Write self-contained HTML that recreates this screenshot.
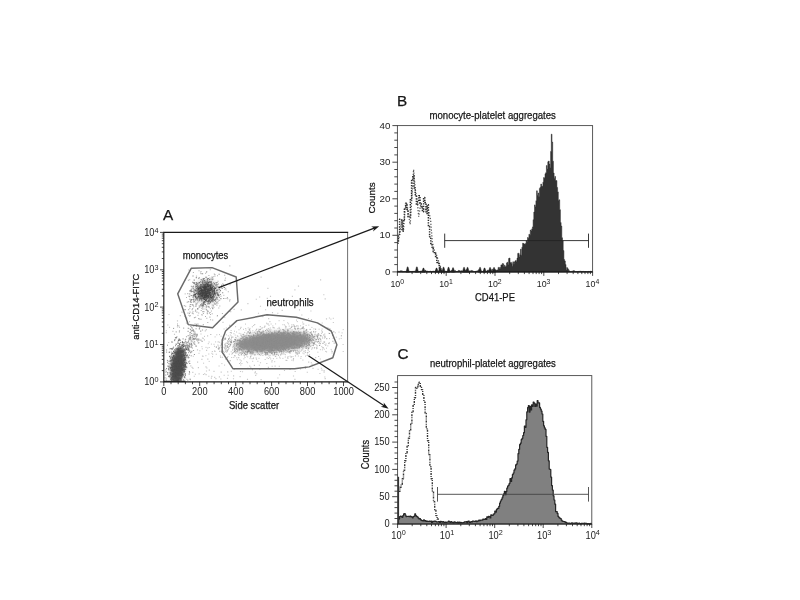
<!DOCTYPE html>
<html lang="en"><head><meta charset="utf-8"><title>Flow cytometry: monocyte- and neutrophil-platelet aggregates</title>
<style>html,body{margin:0;padding:0;background:#fff;}body{width:800px;height:600px;overflow:hidden;}svg{display:block;}text{font-family:"Liberation Sans", Arial, sans-serif;fill:#161616;stroke:#161616;stroke-width:0.25px;}text.t{stroke:none;fill:#222;}</style></head><body>
<svg width="800" height="600" viewBox="0 0 800 600">
<rect width="800" height="600" fill="#fff"/>
<g id="panelA">
<text x="162.9" y="219.7" font-size="15.3" text-anchor="start" >A</text>
<path d="M218.2 341.8h0M177.5 326.9h0M252.5 369.6h0M247.9 368.3h0M171.9 364.2h0M180.5 373h0M234.5 369.2h0M201.9 359.4h0M267.3 324h0M230 360.8h0M323.8 294.7h0M212.7 354.2h0M189.1 351.4h0M297.8 353.8h0M195 323.9h0M226.1 348.4h0M254.4 365.3h0M199.1 373.8h0M275.9 344.8h0M260.5 362.7h0M239.1 355.3h0M278.9 303.7h0M205.3 330.9h0M307.4 355.1h0M283.8 350.1h0M184.9 257.5h0M233.5 378.7h0M244.9 354.1h0M172.1 342.3h0M258.5 313.2h0M307.5 352.8h0M262 316h0M259.6 297h0M318.6 356.5h0M242.5 371.7h0M279.3 366.2h0M270.5 296.4h0M211.8 376.3h0M228.2 375.2h0M240.5 371.5h0M193 368.3h0M290.1 369.4h0M186.7 379.2h0M306.8 335.1h0M178.8 325.9h0M308.7 362.1h0M298.4 356h0M233 352.5h0M223.8 295.4h0M190.2 304.6h0M194.3 376.2h0M244.3 347.3h0M261.1 379.6h0M233.6 375.8h0M225.5 278.1h0M277.5 334.8h0M249.2 329.9h0M174.5 334.4h0M311.3 362.7h0M294.9 289.8h0M229.3 363h0M268.4 367.4h0M175.9 351.8h0M192.1 367.3h0M220.8 379h0M190.3 379.6h0M182.2 373.2h0M307.3 372.2h0M265.2 359.5h0M222 352.3h0M224.7 317.2h0M326.5 318.9h0M241.2 360.9h0M182.3 378h0M221.2 372.1h0M191.9 295.7h0M169.5 327.3h0M189.5 363.2h0M253.7 325.5h0M324.1 370.6h0M305.5 368.3h0M225.1 346.9h0M192.8 372.3h0M291.9 324.9h0M219.1 366h0M325.2 298.9h0M303.8 351.2h0M285.5 301.9h0M202.5 338h0M170.5 375.2h0M170.3 373.5h0M277.9 345.6h0M320.6 279.8h0M325.7 345.5h0M320.3 359h0M202.5 356h0M197.6 362.1h0M311.5 319.5h0M301.8 315h0M295.2 371.5h0M179.5 327.3h0M292.4 296.4h0M287.2 351.9h0M293.5 376h0M219.6 342.2h0M229.8 265.8h0M230.7 311.6h0M193.3 356.2h0M186.4 323.1h0M296.3 300.5h0M189.5 321.6h0M272.1 268.1h0M222.5 357.2h0M168.1 372.7h0M322.9 347.5h0M316.9 335.4h0M236 321.6h0M199.9 319.2h0M206.5 371h0M260.7 347.7h0M207.8 359.1h0M313 368.3h0M223 322.4h0M312.1 364.4h0M233.9 333.7h0M251.8 353.7h0M250.5 331.8h0M195.4 374.2h0M166.4 371.5h0M242.4 353.5h0M283.1 342.4h0M249.7 366h0M255.7 375.3h0M256.5 359.1h0M206 366.9h0M247.9 303.6h0M256.7 373.7h0M237.5 280.8h0M264.9 326h0M277.9 378h0M239 329.7h0M318.1 369.2h0M278.9 303.2h0M207.8 304.7h0M256.3 299.2h0M188 349.8h0M185.5 363.6h0M204.7 373.7h0M177.6 341.7h0M310.9 311h0M190.8 365.9h0M188.9 315.3h0M308.6 348.9h0M319.9 373.5h0M300.5 369h0M191.9 330.7h0M220.7 357.3h0M197.5 349.8h0M169 314.5h0M255.4 371.9h0M219.4 376.8h0M266.8 363.5h0M325.2 378.6h0M293.4 359.1h0M208.8 376.2h0M172.2 373.4h0M186.8 344.8h0M234.1 309.3h0M207.6 335.9h0M190 328.8h0M279.1 351.4h0M180.3 315.6h0M234.6 355.6h0M177.5 320.8h0M295.5 355.8h0M179.3 369.6h0M305.4 366.8h0M239.2 349.6h0M315.7 331.5h0M209.1 342h0M204.4 339.9h0M183.5 372.3h0M198.4 367.6h0M216.3 354.2h0M212.7 308.4h0M246.7 361.7h0M168.7 342.5h0M206.3 307.1h0M255 372.9h0M196.5 276.1h0M183 363.3h0M298.3 332h0M300.8 358.2h0M229.4 311.3h0M324.8 377h0M221.2 345.1h0M268.7 318.6h0M231.3 371.2h0M186.8 367.6h0M177.2 377.9h0M192.2 345.4h0M179.5 330.5h0M274.3 303.5h0M211.4 378.1h0M240.1 342.5h0M191.3 346.7h0M321.4 368.2h0M323.2 347.7h0M322 370.1h0M215.9 378.6h0M227.5 378.3h0M242.6 349.8h0M247.5 379.4h0M166.6 378.2h0M230.4 360.5h0M172.5 342h0M203.5 374.5h0M260.5 306.2h0M272.2 366.2h0M281.6 347.5h0M218.6 349.1h0M325.1 337.3h0M269.9 321.6h0M172.9 331.4h0M267.3 298.3h0M284.5 370.5h0M250.5 357.1h0M247.4 338.5h0M299.5 309.9h0M260.3 326.6h0M278 337.4h0M203 356.3h0M224.2 375.2h0M182.8 350.4h0M267.4 330.5h0M267.1 357.9h0M166.3 332.6h0M294.9 379.3h0M252.4 326.7h0M272.5 312.6h0M206.6 350.3h0M177.8 372.8h0M199 307.5h0M285.5 328h0M227.7 371.9h0M243.3 348.8h0M265.6 309.7h0M269.8 357.4h0M206.9 368h0M286.1 360.4h0M167.8 325h0M175.6 372h0M277.8 313.2h0M275.1 366.1h0M241 327.4h0M241.3 309.8h0M198 315.3h0M324.1 372.1h0M240.1 376.6h0M298.5 331.7h0M209.3 370.1h0M199.8 350.7h0M259.9 369.5h0M188.7 270h0M187.3 363.2h0M298.5 286.1h0M279.6 374.7h0M203.2 338.3h0M169.8 348.8h0M166.4 330.7h0M214.7 377.3h0M188.6 358.1h0M301.7 347.3h0M166.1 379.5h0M185.2 293.9h0M315.7 357.6h0M212.7 285.6h0M261.1 277.1h0M224.2 347.4h0M173.6 364.1h0M182.3 361.2h0M317.2 348.1h0M206.1 374.6h0M196.5 326.3h0M226.2 290h0M297.2 354.5h0M267.9 288.4h0M254.7 324.5h0M282.2 310.3h0M238.7 357.6h0M287.6 357.2h0M173.7 350.8h0M315.8 344.5h0M221.4 343.4h0M214 371.4h0M207.9 257.1h0M271.9 361.9h0M229.6 325.4h0" stroke="#b0b0b0" stroke-width="1.15" stroke-linecap="square" fill="none" opacity="0.7"/>
<path d="M283.2 345.3h0M291.5 356.8h0M256 343.5h0M261.1 344.3h0M279.4 344.8h0M268.8 345.3h0M276.9 347.7h0M223.5 339.1h0M274.4 334.2h0M247.2 348.9h0M257.9 348.1h0M295.3 342.8h0M288.6 340.2h0M237 344.6h0M286.9 337.1h0M272.7 347.9h0M251.7 348.6h0M324.8 334h0M278.9 340.6h0M316.6 341.3h0M298.8 335h0M274.6 342h0M228 356.5h0M298.2 326.9h0M295 339.5h0M287.3 343.9h0M234.5 343.4h0M314.9 334.6h0M246.7 333.8h0M242.3 347h0M320.8 341.8h0M282.9 358.4h0M260.6 337.9h0M289.5 345.1h0M247 335.2h0M283 343.3h0M239.7 343.1h0M260.7 346.6h0M271.8 341.6h0M266.1 350.7h0M312.2 336.4h0M297.3 334.5h0M277.4 347.5h0M315.6 336h0M273.1 343.6h0M234.7 345.2h0M257 346.2h0M243.5 329.3h0M276.2 343.9h0M260.7 349.8h0M267.3 338h0M287 329.1h0M256.7 343.2h0M297.8 339h0M282.9 336.4h0M284.1 354h0M257.9 361.3h0M257.7 343.4h0M280.2 349.4h0M240.5 328.6h0M291.8 346.8h0M293.3 360.7h0M280.7 343.5h0M300.2 342.9h0M319.1 329.2h0M262.9 316.7h0M296.7 337.5h0M301.1 356.5h0M274.7 340.1h0M261.1 336.7h0M258.4 348.1h0M276 342.4h0M270.9 349.3h0M288.2 339.9h0M292.8 339.5h0M244.8 355.4h0M287 333.8h0M304.2 342.4h0M233.8 357.4h0M284.5 348.1h0M280.2 340.5h0M233.9 352.5h0M275.6 339.8h0M284.5 341.9h0M293 337.8h0M272.8 325.9h0M264 348h0M310.8 336.5h0M272.6 354.2h0M266.6 348.2h0M320.2 338.9h0M307.6 334.1h0M280.5 341h0M278.7 350.3h0M339 332.1h0M259.8 346.9h0M246.9 347.9h0M290.2 338.7h0M288.4 329.2h0M294.6 328.8h0M255.9 339.2h0M264.7 349.3h0M277 338.8h0M290.5 352.9h0M275.4 344.8h0M308.5 341.5h0M241.9 363.5h0M333.3 322.5h0M274.2 345.2h0M301.4 345.1h0M267.1 334.6h0M278.4 349.6h0M245.1 336.4h0M273.2 327.4h0M267.7 339.2h0M286.7 335.8h0M251 340.8h0M273.3 337.1h0M275.8 347.7h0M307.9 352.5h0M253.7 340.4h0M209.2 361.4h0M255.5 343.2h0M288.3 330.6h0M287.5 340.9h0M226 347.9h0M306.1 325.4h0M296.9 342h0M288 344.4h0M310 337.7h0M298.3 337.1h0M294.1 334.4h0M273.1 355.3h0M286.9 339.9h0M243.7 338.3h0M280.7 348.7h0M286.8 345.1h0M274.6 352.3h0M264.2 338.6h0M298.9 340.7h0M267.2 338.2h0M268.4 347.2h0M283.8 332.1h0M286.6 342.5h0M248.5 349.9h0M267.3 340h0M297.2 350.4h0M256.7 346.7h0M252.7 361.3h0M262.4 352.1h0M258 349.5h0M333.3 318.3h0M263.6 346.7h0M272.1 337.1h0M333 338.2h0M231.2 351.8h0M229.3 354.2h0M259.5 344.3h0M309 340.3h0M236.6 332h0M307.3 345.2h0M253.5 350.2h0M288.7 345.9h0M214 344.3h0M299.7 345.7h0M297.3 321.6h0M279.8 345.4h0M343.2 329.6h0M266.2 342.9h0M298.6 336.8h0M305.4 333.7h0M281.9 337.5h0M278.9 336.4h0M232.6 353.5h0M282.9 337.2h0M281 349.1h0M248.6 343.1h0M289.8 344.9h0M264.8 326.7h0M308.7 342h0M275.2 339.9h0M281.8 338.2h0M247 338.5h0M258.6 338.6h0M244.2 349.2h0M240.1 349.6h0M247.9 346.7h0M312.1 340.8h0M255.4 343.8h0M278 328.6h0M258.7 344.5h0M262.4 343.6h0M295.2 346.3h0M299.7 344.6h0M267.2 342.4h0M267.5 340.2h0M269.2 329.3h0M266 342.5h0M248.8 343.8h0M288.8 339.7h0M329.4 318h0M268.4 328.6h0M302.9 360.1h0M207.7 348h0M288.8 338.7h0M288.6 323.9h0M298.2 343.1h0M275.3 337.5h0M291.9 337h0M280.7 337.7h0M214.5 346.3h0M280.9 347.3h0M251.4 343.5h0M291.7 341.9h0M309.6 354.6h0M249.4 329.3h0M298.9 351.9h0M300.3 346.3h0M257.9 337.8h0M298.4 333.3h0M225.6 338.1h0M343.2 351.5h0M256.1 337.9h0M280.8 335.9h0M310.2 338.8h0M246.5 354.1h0M259.4 344.9h0M274.5 339.6h0M283.4 336.1h0M224.1 329h0M240.5 338.8h0M274.4 342.5h0M290 341.8h0M253.2 338.2h0M217.9 345h0M288.4 345h0M271.6 340.9h0M300.2 340.2h0M295.2 344.9h0M281.5 351.5h0M259.4 340.4h0M252.8 337.6h0M317.9 352.2h0M275.9 346.3h0M307.1 345.7h0M306.7 330h0M258 346.7h0M313.7 339.9h0M251.7 341.1h0M256.7 336.8h0M315.1 334.2h0M276.8 358.3h0M307.1 342.2h0M258.8 346.3h0M319 343.4h0M309 340.2h0M288.8 339.4h0M287.2 351h0M236.4 344.4h0M281.1 337.2h0M267.2 348.6h0M329.3 342.7h0M282.9 329.6h0M326.9 338.7h0M273.5 333.6h0M272.8 333.8h0M277.2 345.4h0M276 344.1h0M252.9 354.6h0M256.4 329.5h0M269.5 336.6h0M247.6 341.4h0M282.2 332.5h0M272.1 353.1h0M293.3 339.5h0M278.4 340.8h0M274.1 347.6h0M271.1 324h0M273.9 335.3h0M292.2 336.1h0M280.2 358.2h0M246.2 335.6h0M235.6 326.7h0M224.6 348.6h0M256.8 329.1h0M235.4 349.7h0M253.9 340.8h0M284.7 351.6h0M327.8 345.9h0M279 343.1h0M324.3 349.2h0M266.9 346.1h0M282.8 341.8h0M260.8 333h0M259.7 331.4h0M308.3 343.6h0M243.3 355h0M297.9 325.7h0M325 344.4h0M329.9 328.5h0M289.5 344.1h0M280.5 342.9h0M302.5 328.5h0M240.8 333.9h0M259.6 338.5h0M285 343.3h0M275.5 336.8h0M263.6 350.1h0M295.6 341.2h0M267.2 354.4h0M259.4 348.1h0M305.9 337.7h0M296.6 331.9h0M302.4 341.5h0M232.7 350.3h0M251.7 353.5h0M256.6 342.1h0M282.4 338.9h0M281.7 337.3h0M293.1 340.7h0M279.1 320.7h0M306.3 339.9h0M227.1 346.3h0M288.2 349.2h0M246.7 355.9h0M272.1 360.5h0M271.4 347.4h0M264.5 334.3h0M305 346.7h0M316.9 345.4h0M258.6 330.6h0M257.1 338.2h0M253.4 348.1h0M283.7 339.3h0M279.6 340.5h0M281.2 347.3h0M300.4 334.9h0M235.2 355.9h0M278.7 350.1h0M230.6 342.8h0M274.9 331h0M261.5 348.5h0M304.9 351.9h0M251 333.1h0M289.5 348.1h0M279.5 331.7h0M296.5 346.4h0M289.6 337.2h0M283.6 347.4h0M258.9 329.2h0M284.1 345h0M275.9 348.7h0M259.2 342.6h0M267.1 346.9h0M317.8 336.9h0M331.2 349.4h0M296.6 344.8h0M322.6 337h0M271.4 334.2h0M288.5 351.2h0M289.6 344.1h0M269.7 343.7h0M237.2 352.8h0M263.3 334.5h0M254.3 337.3h0M298.6 348.3h0M239 351.8h0M298.6 335.8h0M234.6 339.4h0M258.1 345.9h0M264.2 327.4h0M280.4 329.9h0M298.7 331h0M255.9 336.9h0M261.1 352.9h0M298.3 344.8h0M282.7 329.6h0M260.7 338.9h0M249 347.8h0M254.6 338.1h0M245.7 328.5h0M291.8 350.9h0M279.1 334.2h0M202.3 348.8h0M307.9 341.8h0M300.8 351.3h0M305.1 336.4h0M303.8 345.7h0M233.4 342h0M236.6 344.1h0M290 332.7h0M220.4 356h0M286 352.4h0M240 352.7h0M332 353h0M269.5 344.5h0M271.4 349.9h0M303 340.6h0M238.8 350.4h0M262.7 347.7h0M283 353.8h0M305.4 336.3h0M285.4 354.7h0M260.8 346.4h0M307.8 349.1h0M288.2 330.9h0M241.2 346.4h0M286.9 360.5h0M252.5 352.4h0M294.8 327.8h0M253.1 344.9h0M261.6 341.8h0M287.2 334.9h0M287.2 336.2h0M260.6 347.2h0M259.7 345.3h0M318.1 339h0M271.5 347.9h0M265.8 350.9h0M240.8 349.3h0M260.8 337h0M322.2 332h0M322.7 343.4h0M313.6 331.7h0M308.1 350.6h0M271.8 341.3h0M341.2 338.4h0M263.3 338.1h0M287.2 343.6h0M280.8 354.7h0M266.4 346.2h0M313.7 331.4h0M304 353.8h0M237.9 336.4h0M246 330.1h0M286.1 327h0M289.3 352h0M231.3 342.9h0M223.8 351.8h0M255 341.5h0M276.8 346h0M265.7 342.8h0M260.3 344h0M243.5 344.9h0M222.7 342.2h0M326.6 338.7h0M241.2 346.5h0M247.9 331.5h0M255.6 349.1h0M285.3 340.5h0M249.4 335.7h0M311.5 341.1h0M248.2 327.9h0M239.5 363.5h0M244 343.7h0M280.6 340.4h0M266.7 332.2h0M247.7 356.9h0M255.1 349.9h0M229.2 343.3h0M282.6 349.3h0M245.1 348.8h0M285 335.6h0M287.3 334.2h0M253.6 343.5h0M201.9 346.7h0M247.2 332.9h0M264 348.6h0M264.8 352.4h0M243 334.4h0M317 341.9h0M300 333.8h0M296.8 342.3h0M292.5 340.9h0M307.1 334.6h0M248.2 332.8h0M305.8 334.1h0M246.4 337h0M262.3 333.3h0M266.8 337.8h0M259.6 335.8h0M275.7 338.4h0M278.2 343.7h0M282.9 324.7h0M260.1 337.1h0M294.9 328.5h0M255.6 341.2h0M266.5 350.2h0M263.6 350.2h0M234.5 331.2h0M308.1 342.8h0M288.2 341.9h0M287.3 331.8h0M300.2 336h0M301.6 340.7h0M221.1 336.2h0M305.3 338.7h0M264.5 344.6h0M263.2 338.7h0M277.8 342.9h0M315.9 339.3h0M326.6 351.9h0M321.8 346.6h0M278.6 342.8h0M270.7 336.7h0M272.8 337.3h0M319.5 342.7h0M261.9 328.4h0M273.3 339h0M245.1 335.6h0M214.7 350.9h0M274.7 361.7h0M274.1 340.9h0M314 340.1h0M279.3 338.8h0M259.6 354.6h0M302.9 353h0M265.6 342.9h0M251.8 351.1h0M237.8 349.1h0M305.3 350.5h0M250.3 352.2h0M255.4 337.7h0M240 353.4h0M319 334.2h0M254.4 341h0M343.1 344.5h0M259.4 329.5h0M257.6 352.4h0M325.1 336.2h0M256.1 339.5h0M224.7 352.7h0M246.4 352.3h0M228.3 335.8h0M282.3 335.6h0M296 340.5h0M243.7 349.1h0M296.6 325.8h0M324.5 342.1h0M294.4 326.4h0M255.4 340.8h0M303.2 328.8h0M250 328.4h0M268.7 345.1h0M229.3 340.9h0M289.6 353h0M292.7 338.4h0M242.8 337.3h0M257.2 344.5h0M274.6 354.7h0M282.1 333.3h0M317.1 346.1h0M277.3 336.3h0M224 338h0M299.1 334.1h0M239.6 346.2h0M281.9 346.1h0M293.5 351.4h0M253 351.1h0M248.8 349.3h0M280 343.5h0M301 339.9h0M305.4 346.4h0M278.3 337.4h0M254.4 339.5h0M269.5 342.2h0M295.2 333.9h0M255.7 341h0M279.6 333.8h0M318.1 334.5h0M302.7 322.1h0M275 344.1h0M280.5 346.2h0M282.6 342.7h0M223.6 340.4h0M212.3 351.5h0M283.2 339.9h0M252.6 339.3h0M325.7 351.4h0M274.2 351.9h0M231.1 330.5h0M261.5 336.3h0M260.1 344.6h0M276.5 344h0M274.6 349.1h0M322.1 329h0M279.2 339.7h0M283.7 329.7h0M226.3 328h0M289.3 342.4h0M275.6 323.9h0M264.5 337h0M236.4 337.9h0M294.1 344.7h0M274.7 345.9h0M258.8 343.8h0M276.4 346.1h0M273 341.1h0M271 337.4h0M335.4 341.4h0M287.9 358.5h0M311.9 327.4h0M294.2 346.9h0M326.5 348.2h0M295.1 331.5h0M251.7 345.8h0M288 333.2h0M264.4 339.7h0M276.8 344.4h0M266.6 333.2h0M309.4 351.6h0M272.7 350h0M287.3 346.1h0M287.5 335.2h0M291 348.5h0M252 358.7h0M332.3 351.6h0M329 343.6h0M265.5 338.1h0M253.2 344.5h0M274.5 347.1h0M221.9 363.6h0M336.3 337.2h0M293.5 344.2h0M282.2 339.9h0M271.2 336h0M279.8 341.5h0M283.1 334.9h0M276.1 342.3h0M290.7 332.7h0M286.9 348.6h0M290.9 338h0M261.6 341.2h0M295.5 352.3h0M270.4 337.4h0M285.2 342.8h0M250.1 338.2h0M272.6 347.3h0M242.3 336.7h0M287.7 331.7h0M278.1 344.4h0M271.4 334.5h0M273.2 339.6h0M283.6 335h0M303.4 327.1h0M270.3 342.4h0M300.5 335.4h0M289.4 336.6h0M295.9 353.7h0M264.5 346.2h0M250.6 351.3h0M307.6 339.8h0M244.7 347.3h0M306.6 347.9h0M295.9 326.5h0M257.5 354.2h0M242.6 353.1h0M326.1 344h0M305 337.2h0M241.9 343.7h0M269.6 342h0M293.7 339.5h0M280.4 344.8h0M275.9 356h0M287 341.7h0M269.1 337.7h0M311.3 340.4h0M245.6 339.9h0M271.1 338.9h0M303.5 331h0M288.3 342.1h0M243.3 344.7h0M272.7 346h0M263.1 345.2h0M229.5 337.2h0M296.7 348.3h0M274.3 337.5h0M303 324h0M253.9 348.7h0M292 332.9h0M225 356.8h0M278.6 334.9h0M277 348.7h0M205.9 355.7h0M293.7 324.7h0M294.7 326.9h0M305.9 342.7h0M335.3 332.8h0M275.7 349.9h0M257.4 338h0M264.9 342.2h0M246.1 347.9h0M289.7 341.4h0M320.6 336.1h0M309.9 335.2h0M294.2 325.8h0M280.2 340.3h0M261.3 338.4h0M265.2 337.2h0M215.6 341.9h0M259.9 339.1h0M246.4 343.1h0M296 338.5h0M262.5 353.3h0M301.8 347h0M305.9 337.2h0M272.2 350.7h0M260 342.2h0M285.4 344.1h0M268.1 350h0M270.6 347.9h0M304.2 344.8h0M294.1 331.7h0M239.3 340h0M288.7 352.4h0M242.3 346.8h0M251.6 338.2h0M268 347.8h0M281.4 350.5h0M249 350.7h0M300.1 340.6h0M287.5 336.8h0M245.4 341.1h0M259.3 365.2h0M262.9 355.5h0M280.6 344h0M294.6 334.6h0M299.9 343h0M234.5 349.6h0M290.1 344.3h0M317.4 335.7h0M289.2 346.6h0M251.4 352.9h0M235.2 335.1h0M288.4 332.7h0M270.9 329.8h0M276.2 333.3h0M283.3 329.7h0M286.9 339.1h0M276.7 341.4h0M277.8 331.7h0M206 347.4h0M249.5 340.4h0M285.4 326.1h0M254.1 338.9h0M246.7 346.6h0M270.8 336.1h0M249 350.1h0M257.6 347.8h0M286 326.7h0M245.8 344.2h0M284.7 347.2h0M297.2 348.2h0M264.8 341.2h0M295.6 337.2h0M302.5 327.8h0M292.5 339.4h0M222.6 353.4h0M283.4 341.5h0M245.7 340.7h0M315.2 332.7h0M181 342.5h0M242.6 343.4h0M263.9 335.9h0M252.9 351.6h0M237.3 359.7h0M259.7 334.8h0M296.5 344.7h0M247.3 349.8h0M224.9 338.7h0M305.2 337.8h0M240.2 348.5h0M299.7 340h0M226.2 343h0M286.7 347h0M324.7 336.3h0M262 342.7h0M306.9 332.4h0M308.6 318.5h0M296.1 335.3h0M287.8 346.3h0M243.1 343.7h0M281.8 346h0M249.4 336.4h0M224.6 365.1h0M269.7 340.7h0M235.3 352.1h0M261.4 354h0M297.9 340.4h0M293.9 332.1h0M265.9 338.3h0M240.8 344.7h0M271.9 353.2h0M184.3 343.7h0M250 340.3h0M286.6 344.2h0M275.5 338.3h0M288.5 343.7h0M225.2 343.7h0M237.3 335.8h0M279 342.2h0M277.6 335.1h0M269.1 335.5h0M285.7 346.4h0M323 348h0M253.1 340.2h0M249.9 346.2h0M328.7 343.4h0M215.1 336.9h0M240.5 348.5h0M275.2 344.3h0M322.5 332.1h0M253.3 358.6h0M283.8 335.4h0M219.5 334.6h0M209.2 347.5h0M276.8 349.4h0M270.9 337h0M256.1 357.9h0M227.6 346.9h0M276 346.6h0M264.4 346.6h0M296.9 339.2h0M262.6 341.5h0M248.9 342.4h0M267 344.2h0M311.7 349.2h0M263.4 347.5h0M283.4 347.2h0M275.7 344h0M261.9 337h0M299.2 350.1h0M293.1 344h0M281.9 338.1h0M227.4 350.6h0M280.1 337.4h0M249.8 353.6h0M227.4 359h0M293.6 358.7h0M255.7 343.3h0M261.4 344.2h0M268.9 336.8h0M303.5 333.9h0M261.6 347.2h0M260.3 339.8h0M284.4 338.5h0M241.4 343.7h0M270.1 355.4h0M246 351.6h0M253.6 340.9h0M266.4 344.7h0M299.2 353.5h0M258.6 353.4h0M302.3 346.1h0M255.1 350.4h0M272.3 344.9h0M268.1 347.6h0M305.7 348.3h0M270 350h0M313.6 332h0M313.9 328.9h0M290 345.4h0M315.1 341.1h0M261.6 336.9h0M241.7 350.3h0M268.2 337h0M288.9 335.1h0M263 339.4h0M320.4 349.7h0M269.9 330.4h0M282.5 342h0M284.7 345.6h0M266.9 349.7h0M297.7 341.9h0M263.8 339.2h0M293 332.3h0M270.3 336.6h0M237.8 349.4h0M274.3 342.3h0M297.7 328.9h0M273.4 344.3h0M296.8 332.1h0M294.4 342.2h0M312.2 347.9h0M291 357.2h0M274.7 338.8h0M265.3 335.6h0M273.2 327.8h0M273 345.4h0M301.5 337.4h0M312 334.3h0M270.3 328h0M254.1 337.5h0M314.6 343h0M246.3 348.1h0M287.5 339.3h0M275.4 339.7h0M259.8 330h0M273.3 351.7h0M312.5 337.1h0M255.2 341.9h0M298.8 342.8h0M259.9 345.8h0M269.9 346.2h0M263.5 331.9h0M276.9 347.5h0M245.9 343.4h0M297.8 337.5h0M259 358.3h0M297.3 348h0M251.1 355.9h0M231.3 341.4h0M295.1 350.4h0M250.3 338.9h0M279.1 327.4h0M292.1 344.9h0M263.6 346.8h0M295.5 342.8h0M289.5 352.1h0M262.6 344.1h0M261.9 350.6h0M264.6 346.3h0M278.6 342.2h0M319.8 338h0M312.4 345.3h0M309.3 338.2h0M299.6 345.7h0M259.1 345.2h0M271.6 342h0M308.5 334.2h0M230.3 332.5h0M262.9 338.2h0M275.7 346.1h0M320.9 340.8h0M286.6 335.7h0M290.8 350.8h0M308.8 325.1h0M299 351.8h0M295.6 329.5h0M267.4 346.9h0M285.3 335.3h0M252.4 350.8h0M241.2 355.1h0M275.7 344.2h0M240.1 340.2h0M292.1 329.9h0M327.9 327.7h0M243.4 344.7h0M287.9 346.4h0M265.3 341.2h0M268.6 338.3h0M208.8 354h0M281.6 342.7h0M258.9 345.1h0M274.6 341.5h0M302.7 327.3h0M280.9 333.7h0M267.6 353.5h0M246.9 343.4h0M260.2 350.1h0M248.7 331.7h0M288.1 338.4h0M267.3 350.5h0M251.8 341h0M279 344.7h0M262.2 350.5h0M332.7 334.7h0M322.2 323h0M311.2 336.8h0M278.4 339.3h0M257.8 333.9h0M265.5 352.2h0M304.3 337.2h0M261 337.9h0M245 357.5h0M292.2 341.6h0M261.7 335.5h0M309.5 345.1h0M250.9 351h0M246.7 348.8h0M249.9 340.9h0M288 344.2h0M300.7 333.9h0M316.5 348.7h0M275 345.4h0M254.8 342.4h0M240.9 345.2h0M280.9 351.4h0M299.9 346.1h0M265.5 341.1h0M266.3 344.3h0M225.5 351.4h0M234.2 341.3h0M275.3 338.2h0M317.9 338.1h0M316.3 347.5h0M262.4 345.9h0M308.4 337.1h0M277 337.8h0M276.3 339.3h0M277.7 349.1h0M311.1 340.3h0M280.7 347.8h0M266.9 334.9h0M303.2 333h0M298.5 333.2h0M321.7 330.8h0M297.8 351.3h0M251 354.7h0M252.8 330.8h0M294 345.7h0M268.4 324h0M273.4 339.9h0M265 340.6h0M228.4 341.4h0M322.4 349.8h0M265.3 337.5h0M285.8 349h0M293.1 332.1h0M279.3 342.7h0M312.8 347.9h0M289.2 349.8h0M265.6 354h0M264.2 345.7h0M298.2 333.6h0M255.9 330.6h0M279.2 341.3h0M266.8 346.3h0M220.3 345.9h0M277.1 339.9h0M296.5 353.2h0M263 336h0M259.4 343.8h0M289.7 334.6h0M300.3 332.6h0M296.6 343.5h0M288.2 356.8h0M268.1 341.3h0M287.8 347.4h0M240.6 346.6h0M256.2 348h0M310.4 339.7h0M272.3 343.5h0M199 353.3h0M289.6 342.1h0M264.4 337.5h0M271 351.2h0M273.1 352h0M208.3 343.7h0M282.1 341.4h0M231.7 340.4h0M306.6 330.2h0M248.8 335.9h0M261.1 347.7h0M289.2 326.1h0M312.4 334.9h0M260.7 355.3h0M272.2 333.1h0M258.1 338h0M248.7 341.5h0M297.9 342.8h0M240.8 365h0M249.5 344.8h0M276.2 347.5h0M266.8 346h0M329.5 338.6h0M247.2 346.5h0M254 340.9h0M280 344.1h0M268.1 348.7h0M269.3 332.9h0M297.5 337.6h0M306 334.9h0M290 343.2h0M204.5 336.4h0M246.8 354.4h0M226.7 352.3h0M303.5 343.5h0M292.2 337.1h0M274.8 343.7h0M286.3 346.3h0M269.3 337.3h0M260.7 346.1h0M231.4 336.1h0M264.1 338.8h0M266.6 323.2h0M266 340.8h0M294 326.1h0M267.3 346h0M288.3 349.8h0M301.7 332.3h0M291.3 338.3h0M255.1 354.7h0M258.2 337h0M264 336.6h0M301.3 342.8h0M311.5 342.3h0M259.6 350.8h0M257.8 339.9h0M270.7 342.6h0M305.6 335.3h0M284.1 341.1h0M241.8 336.5h0M269.5 345.4h0M283.6 344.9h0M276 338.6h0M285.5 333.9h0M240 342.2h0M237.6 341h0M255.3 339.4h0M273.4 336.2h0M263.1 330.3h0M278.3 335.3h0M283.9 320.6h0M254.3 345.3h0M211.4 344.1h0M277.5 342.6h0M236.3 346.6h0M278.3 334.6h0M294.3 340.2h0M275.2 338.7h0M289.3 341.6h0M304.8 343.1h0M258.8 341.6h0M298.7 337.5h0M285.2 345.1h0M269 325.3h0M278.5 343.3h0M278.1 336.2h0M306.4 338.6h0M258.4 338h0M283.7 333.3h0M250 358.6h0M309.7 347.2h0M310.9 343.7h0M231.8 354.1h0M307.5 343.2h0M224.7 354.9h0M310.3 335.7h0M278.8 347.4h0M273.4 350.2h0M277.5 346.9h0M276.4 331h0M250.8 367.2h0M283 351.1h0M305.6 352.4h0M289.1 336.5h0M274.4 327.9h0M270.6 349h0M218.7 347.7h0M297.2 350.1h0M250.5 339h0M225.4 338.2h0M290.1 356.2h0M245.8 354.4h0M285.9 337.5h0M330.9 319.1h0M273.4 343.7h0M331.7 351h0M334.3 338.5h0M301.4 350.1h0M288.6 343.6h0M270 339.4h0M243.9 358.8h0M262.2 327.6h0M281.9 341.2h0M280.6 355h0M272.1 340.3h0M255.5 343.3h0M263.6 344.4h0M253.6 357.9h0M298.1 346.3h0M294.2 346.6h0M293.5 351.1h0M302.1 350h0M261.9 343h0M256.4 350.5h0M296.5 336.9h0M291.8 360.2h0M306.8 331.3h0M272.9 346.9h0M274.3 344.9h0M306.1 342.1h0M246.6 349.4h0M272.5 343h0M259.4 332.9h0M242.1 341.8h0M245.5 324.1h0M304.5 331.2h0M256.3 347.4h0M212.5 356.7h0M255.2 348.4h0M262.5 345.2h0M277.8 341.8h0M226.3 334.8h0M274.7 352.5h0M261 347h0M279.5 345.3h0M300.2 329h0M282.1 340.1h0M266.3 336.3h0M253.8 335.9h0M247.6 362.7h0M319.6 338.7h0M293.9 333.3h0M201 334h0M279.5 352.4h0M273.3 334.7h0M268.1 335.1h0M238.3 343h0M264.1 336.8h0M251.2 336.9h0M282 351.8h0M270.7 358.9h0M232.7 347.2h0M244.6 343.1h0M278 345.9h0M304.3 335.7h0M242.3 343.1h0M282.3 336.3h0M299.4 352.7h0M237.9 347.5h0M300.6 325.8h0M280.3 339.9h0M238.4 354.5h0M280.4 338h0M287 345.9h0M295.5 344.8h0M285.1 332.5h0M264 343.8h0M203.6 363.2h0M264.5 335h0M227.4 347.4h0M275.5 337.6h0M263.6 336.3h0M255.3 342.8h0M258.5 348.3h0M271.3 343.3h0M286.3 350.6h0M290.9 342.5h0M270.3 336.4h0M266.4 347.7h0M280.7 338.7h0M239.2 333.3h0M284 349h0M284.1 331.1h0M269.5 344.1h0M251.1 346.4h0M269.3 336.2h0M242.9 350.4h0M283.9 334.7h0M248.9 350.6h0M290.5 338.6h0M316.6 336.7h0M247.9 352.1h0M270.3 344.9h0M275.4 334.5h0M243.8 342.9h0M311.3 331.8h0M310.7 340.9h0M246 346.2h0M289.4 334.2h0M219.4 348.8h0M246.2 347.4h0M224.8 344.7h0M253 332.7h0M268.8 343.7h0M259.8 334.4h0M279.6 328.7h0M289.3 344.6h0M319.4 345.2h0M284.4 343.2h0M275 332.2h0M313.6 343h0M266.9 334.1h0M314.1 343h0M244.4 349.3h0M324.6 338.1h0M285.2 338.2h0M259.1 351.1h0M272.2 348.1h0M267.4 348h0M296.1 332.9h0M246.9 343.6h0M296.9 342.4h0M306.7 329.4h0M287.5 336.5h0M277.8 344.2h0M249.5 342.2h0M244.7 346.2h0M252.5 340h0M280.4 336.8h0M304.7 335.1h0M297.3 342.4h0M247.9 342.4h0M252.9 341h0M268.9 355.9h0M264.9 354.4h0M285.9 331.5h0M215 351.5h0M223.4 351.2h0M302.1 342.8h0M269.4 340.6h0M281.6 339.3h0M260.8 340.3h0M305.2 335.2h0M284.3 332.8h0M255.7 333.3h0M270.2 347.4h0M282.7 337.8h0M290.8 338.3h0M284.9 343.3h0M287.7 322.8h0M241.5 350.2h0M273.4 358.7h0M268.6 338.4h0M314.2 343.1h0M324.7 342h0M270.1 347.7h0M254.2 340.3h0M260.4 341.5h0M295 336.9h0M283.1 337.7h0M296.5 320.1h0M269.7 343.6h0M247.5 351.5h0M281.3 351h0M300.4 344.8h0M270.5 334.3h0M269 339.1h0M281.3 338.1h0M305.3 336.3h0M269.2 349.3h0M274.4 333.1h0M285.7 339.8h0M221.6 347.5h0M247.1 338.6h0M287.7 343.3h0M268.6 358.5h0M285.6 336.7h0M281.1 340.7h0M216.8 334.8h0M240 359.8h0M270.1 340.3h0M260.9 350.3h0M276.7 354.4h0M296.4 352.5h0M272.2 345h0M263.7 341.6h0M229.7 341.1h0M249.9 339.1h0M306.7 341.5h0M307.3 345.9h0M299.4 347.5h0M259.7 349h0M266.3 338.8h0M307.2 355.5h0M250.6 356.6h0M296.1 334.2h0M282.3 344.2h0M284.5 338.7h0M241.7 344.7h0M297.8 346.1h0M292.8 348.8h0M249.3 343.6h0M284.4 348.6h0M279.3 345.5h0M279.6 357.1h0M218.3 346.1h0M339.3 338.9h0M227.6 346.5h0M237.4 339.8h0M281.8 354.1h0M287.4 346h0M301.5 341.5h0M252.7 343h0M283.6 339.3h0M257.5 340.7h0M235.5 337.4h0M272.5 339.5h0M276.7 352.2h0M282.7 341.2h0M244 336.4h0M284.3 334.9h0M285.5 333.3h0M278.4 341.2h0M300.6 337.2h0M265.5 344.5h0M277.3 354.2h0M268 338.6h0M267 346.1h0M281.4 346.6h0M240.5 362.8h0M322.7 338.2h0M243.8 345.5h0M284.5 324.9h0M274.5 331.2h0M287.6 351.2h0M301 329h0M311.3 345.9h0M265.9 346.4h0M314.1 336.6h0M274.3 338h0M303.8 324h0M311.2 332.2h0M298.1 328.3h0M250.4 339.5h0M295.6 328.6h0M290.3 336.2h0M307 337.3h0M287.5 339.8h0M321.3 335.9h0M275.4 356.5h0M277.4 346.9h0M256 344.9h0M216.3 347.2h0M257.4 332.3h0M238.9 353.1h0M285.2 330.1h0M321.6 333.4h0M265.6 344.5h0M244.7 332.4h0M256.3 352.1h0M298.8 328.6h0M306.2 339.9h0M288 341.4h0M285.2 333.9h0M251.1 338.6h0M265.8 347.2h0M244.4 356h0M258.3 338.9h0M293.5 343.8h0M265.6 334.9h0M248.2 332.3h0M305.2 347.7h0M323.7 342h0M284 346.9h0M299.5 338.3h0M285.3 357h0M230.3 335h0M250.5 349.4h0M305.6 337.2h0M292.4 340.3h0M282.5 337.5h0M274.3 342h0M305.5 356.1h0M228.3 349.4h0M275.4 349.1h0M302.9 345.6h0M295.4 333.5h0M231.7 357.5h0M305.8 332.7h0M308.8 344.4h0M211.9 353.3h0M250 352.4h0M256.9 337.9h0M234.8 343.4h0M301 335.1h0M227.9 361.3h0M323.2 343.4h0M260.4 334.2h0M232.8 349.3h0M308.1 331.7h0M274.8 340h0M268.6 346.2h0M328.9 333.3h0M297.6 348.3h0M267.5 341.5h0M240.8 352.5h0M260.9 338.3h0M276.3 335.6h0M247.8 341.9h0M313.5 337.6h0M287.9 330.3h0M225.5 359.1h0M263.8 331.5h0M272.6 346.6h0M229.7 338.9h0M281.2 334.8h0M296.2 347.5h0M286.3 338h0M273.4 337.5h0M271.8 344.6h0M267.7 349.7h0M342.1 332.9h0M284.4 347.3h0M291.6 339h0M263.1 350.3h0M291.5 344.5h0M254.5 348.2h0M295.6 339.1h0M293 356.6h0M226.5 350.1h0M243.8 334.3h0M269.2 346.5h0M275.7 333.4h0M237.3 340.7h0M274.9 335.9h0M236.8 357.8h0M253.1 342.5h0" stroke="#a4a4a4" stroke-width="0.95" stroke-linecap="square" fill="none" opacity="0.7"/>
<g transform="rotate(-4.5 273.5 342)"><ellipse cx="273.5" cy="342" rx="38.5" ry="9.4" fill="#8f8f8f" filter="url(#b1)"/></g>
<path d="M263.5 340.1h0M274.1 340.6h0M284.2 335.9h0M247.6 352.6h0M272.4 345.5h0M294.7 342.9h0M273.6 335h0M245.2 348.5h0M285.8 343.6h0M243.2 334.8h0M254.2 338.2h0M276 337.2h0M301.6 337.1h0M263.7 346.6h0M279.1 337.6h0M288.8 349.4h0M251.5 342.5h0M253.6 334.8h0M284.9 344.3h0M291.1 342.6h0M237.4 344.6h0M261.1 337.7h0M253.9 346.9h0M268.8 351.2h0M281.3 332.9h0M289.9 346.4h0M273.7 336.6h0M304.8 333.8h0M271.4 333.6h0M250.4 336.1h0M293.4 345.8h0M265.8 336.5h0M272.5 343.8h0M245.7 338.9h0M271.9 345.3h0M275 343.9h0M250.2 332.6h0M278.8 337.5h0M271.1 340.5h0M281.9 337.9h0M299.5 340.2h0M283.2 344.1h0M292.3 342.4h0M241.8 341.6h0M307.2 341.6h0M283.8 343.3h0M261.7 339.8h0M262.2 348.1h0M280.7 349.5h0M283.1 349.8h0M281.4 336.1h0M305 341.2h0M295.1 341.3h0M267.6 343.2h0M252.8 338.2h0M257.3 340.8h0M248.9 343.4h0M279.7 350.7h0M306.8 339.3h0M289.4 339.8h0M280.6 341.3h0M263.7 343.1h0M246.9 346h0M267.9 337.5h0M267.2 345h0M261.3 345.1h0M284.4 348.3h0M253.7 343h0M283.3 348.1h0M278.5 345h0M246.7 341.4h0M303.6 338.4h0M312.5 335.8h0M267.9 335.2h0M285.1 342.3h0M310.3 340h0M268.5 336h0M272.3 346.4h0M287.4 346.5h0M289.2 340.6h0M284.6 342h0M249.8 351.6h0M280 336.7h0M280.6 342.8h0M292.2 347.2h0M218.3 348.7h0M301.1 335.6h0M239.7 345.8h0M279.8 343.1h0M253.1 341.4h0M277.3 345.1h0M313.6 340.3h0M261.7 332.1h0M293.1 339.9h0M271.2 337.7h0M286.3 332.8h0M275.5 342.4h0M279.4 347.5h0M271.7 342.6h0M288.6 333.8h0M268.2 342.7h0M290.7 337h0M288.3 342.6h0M245.8 337.3h0M247.3 344.6h0M277.5 345h0M288.3 338.4h0M293.4 344.3h0M282.3 343.5h0M250.1 345.4h0M254.2 338h0M267.1 343.1h0M272.4 340.6h0M255.2 344.2h0M259.4 336.6h0M275.7 348.5h0M265.7 337.7h0M299.5 347.9h0M268 341.4h0M278.4 355.2h0M276.3 346.4h0M281 333.1h0M252.8 337.9h0M281.5 341.9h0M306.3 338.3h0M279.2 341.9h0M276.9 352.4h0M279.2 348.3h0M297.1 337.4h0M286 339.3h0M275.6 342.6h0M273.7 339.8h0M302 338.6h0M287 348.7h0M285.4 345.8h0M299.4 345.1h0M304.6 333.1h0M309.5 339.4h0M241.1 341.5h0M247.8 343.8h0M245.7 339.5h0M279 342.3h0M258.7 342h0M271.7 342.5h0M273.3 341h0M289.1 333.4h0M264.5 343.3h0M265.9 340h0M265.5 343.6h0M296.4 339.4h0M268.7 344h0M268.4 333.5h0M278.3 339.9h0M263.2 345.7h0M274.1 339.4h0M232.8 337.1h0M273.7 341.4h0M281.7 342.4h0M264.2 336.9h0M253.3 342.9h0M252.6 347.1h0M248.4 335.6h0M269.3 334.1h0M303.2 335.2h0M272.5 341h0M257.8 335h0M239.5 348.5h0M293.1 350.5h0M246.7 346.6h0M273.5 345.9h0M264.3 346h0M290.2 343.5h0M300.1 339.2h0M301.7 336.6h0M303.3 327.1h0M273.5 338.3h0M273.9 346.7h0M286.8 341.4h0M304.4 332.9h0M259 350.1h0M278.8 332h0M279.4 336.1h0M301.1 345.2h0M263.9 348.7h0M258.4 347.4h0M284.1 340.6h0M247.2 342.7h0M231.1 342.6h0M239.8 350.1h0M254.8 332.2h0M284.4 342.9h0M264.9 352.4h0M287.8 341.2h0M260.6 329.3h0M282.7 345.7h0M262.1 336.3h0M272.2 334.4h0M273.9 345.5h0M301.4 341.1h0M277.4 345.2h0M299.2 338.6h0M250.6 340.1h0M250 339.7h0M271.4 343.7h0M276.4 342.1h0M267.1 344.4h0M290.1 344.3h0M301 338.6h0M269.4 350.1h0M277.4 343.6h0M267.6 346.9h0M265.7 337.9h0M272.2 340.1h0M288.8 339.1h0M275.7 340.8h0M279.6 338.6h0M293.4 333.9h0M266.1 339.3h0M285.5 341.3h0M282.3 339.8h0M259.9 337.9h0M267.2 340h0M278.8 343.2h0M291.5 340.2h0M259.3 338.2h0M274.8 343.6h0M309.5 340.1h0M306.6 348.2h0M254.6 349h0M294.9 346.6h0M273.6 346.4h0M264.6 342.3h0M274.5 350.2h0M269.9 346.7h0M274.5 338.7h0M278.2 344.7h0M260.6 345.9h0M260.1 339h0M277.5 340.6h0M254.8 335.9h0M274 343.1h0M265.1 343.5h0M245.5 345.9h0M281.3 342.7h0M262.2 343.2h0M276.3 346.7h0M278.7 342.8h0M260.4 347h0M295 338.1h0M285.4 342.5h0M272.2 336.2h0M305.3 331h0M279 339.9h0M294.5 338.5h0M274.4 344.7h0M281.7 339h0M286.2 342.9h0M291.5 338.3h0M272.5 340.3h0M258.2 344.3h0M281.5 347.9h0M267.6 344.2h0M294.5 339.9h0M274.7 342.5h0M260.5 338.4h0M294.1 341.2h0M271.7 336.4h0M276.1 347.2h0M252 339.5h0M294.4 347h0M301.9 337.3h0M284.3 337.7h0M282.9 339.6h0M277.6 347.9h0M279.6 340.4h0M274.6 343.1h0M264.2 343.7h0M285.1 348.3h0M235.3 339.4h0M251.1 347.7h0M318.3 339.5h0M276.1 347h0M228.7 344.5h0M216.4 347h0M264 340.5h0M279.5 338.9h0M293.9 340.5h0M281.4 353h0M265.6 346.8h0M258.8 348.8h0M291.2 341.3h0M292.2 348h0M298.7 340.1h0M272.9 347.1h0M246.4 341.3h0M282.6 343.9h0M308.1 347.4h0M279.6 343.6h0M249.3 343h0M278.2 340.6h0M274.8 344.7h0M255.9 340.7h0M241.4 349.6h0M253.6 335.7h0M287.5 340h0M291 339h0M312.6 342.3h0M276.3 342.3h0M270 346h0M309.8 337.3h0M253.8 346.2h0M292.5 333.8h0M260.5 338.4h0M283.9 343.5h0M259.7 337.9h0M285.3 331.7h0M285.2 340.4h0M308.8 343.9h0M262.9 341.6h0M268.2 339.1h0M275.3 346.3h0M246 343h0M300.9 343.3h0M258.4 339.5h0M257.4 335.9h0M294.4 340.7h0M260.3 336.5h0M266.3 340.2h0M304.6 337.6h0M276 346.7h0M285.6 340.3h0M234.3 351.3h0M284.2 339.2h0M271.6 337.8h0M256.7 336.5h0M282.8 343.7h0M276.9 345.3h0M283.3 341.8h0M257.7 345.9h0M295.2 343.2h0M296 338.2h0M256.2 349h0M263 343.9h0M270.1 342.4h0M268.4 339.9h0M241.8 353h0M276.5 333.1h0M256.7 338.2h0M259.2 331.5h0M284.5 348.6h0M269.3 345.7h0M284 335.6h0M295 332.8h0M263 341.2h0M296.3 340.8h0M271 338.6h0M275.1 342.1h0M287.2 347.3h0M286.8 341.1h0M271.3 349.4h0M277.1 341.7h0M306.5 346.6h0M283.7 340.7h0M262.4 347.7h0M265.6 346.9h0M259.4 343.5h0M280.8 342.1h0M277.9 343.4h0M252.9 338.5h0M271.5 350.3h0M270.9 338h0M261.6 343h0M294.6 337.9h0M283.7 342.1h0M266.8 338.2h0M270.5 339h0M282.6 333.4h0M294.1 343.9h0M284.4 347.9h0M283.8 333.5h0M274.6 343.9h0M260.8 337.9h0M281.5 343.7h0M265.8 341.5h0M264.2 340.1h0M272.8 346.9h0M244.4 342.7h0M302.7 341.2h0M276.6 345.5h0M255 337.9h0M243.1 337.7h0M278.3 345.5h0M265.8 339.5h0M281 344.2h0M277.5 333.1h0M262.9 331.4h0M277.6 337.9h0M262.2 349.6h0M297.4 342.4h0M278.5 342.4h0M263 342.6h0M307.6 335.5h0M261.7 343.6h0M289.8 344.5h0M256.1 342.7h0M268.3 336.9h0M274.7 339.7h0M290.2 342.7h0M259.5 343.4h0M266.9 339.6h0M265.1 347.4h0M265.5 334.9h0M259.9 346.6h0M311.8 334.4h0M267 341h0M248.4 345.7h0M272.7 343.3h0M313.6 337.8h0M288 344.7h0M261.9 340.2h0M301.7 343.1h0M275.7 336.9h0M289.5 343.2h0M313.4 345.6h0M288 342.1h0M274.4 339.5h0M279.1 342.7h0M285.6 346h0M278.9 339.2h0M288.5 347.8h0M258.7 345h0M283.5 343.7h0M282.5 340.9h0M272.2 349.7h0M304.1 333.4h0M228.1 347.4h0M261.2 340.6h0M245 345.7h0M272.3 339.7h0M290.4 351.6h0M300.3 345.2h0M266.3 345.5h0M273.2 347.2h0M283.9 341.1h0M283.2 338.1h0M288.2 347.6h0M267.2 345h0M244 348.4h0M288.9 336.3h0M304.8 340.2h0M242 338.2h0M289.1 339.6h0M292.8 333.6h0M272.1 346.5h0M261.6 345.9h0M267.2 344h0M280 351.5h0M251.6 347.1h0M296.6 335.2h0M275.7 352.2h0M291.3 327.4h0M268.7 334.7h0M278.7 338.4h0M263.2 339h0M278.6 339.5h0M257.2 342.2h0M280.5 337.6h0M292.9 333.1h0M280.7 339.7h0M301.5 337h0M261.2 336.9h0M309.3 342.1h0M254 342h0M256.9 350.1h0M280.3 332.4h0M277.6 345.8h0M273.7 344.1h0M271.6 343.1h0M277.1 338.6h0M279.8 342.3h0M272.6 339h0M255.4 344.5h0M287.5 330.1h0M264.4 348.8h0M289.7 337.6h0M297.4 335.8h0M260 351.7h0M265.6 341.6h0M243.6 339.7h0M252.4 343h0M241 349.2h0M266.9 339.8h0M262.4 346.2h0M300.9 338.1h0M303 347h0M297.7 341.5h0M247 347h0M266.2 343.4h0M239.6 343.3h0M277.4 337.5h0M279.3 349.1h0M277.4 338.6h0M315.6 329.2h0M257.1 345.1h0M262.1 332.6h0M278.4 345.4h0M259.7 349.6h0M282.9 346.6h0M246.1 344h0M302.9 348.8h0M297.2 340.2h0M276.6 339h0M293 337.4h0M275 332.6h0M247.1 352h0M274.6 342.9h0M234 344.8h0M310.2 332.5h0M230.7 344.5h0M263.9 341.8h0M250.4 337.6h0M251.5 346.5h0M272.9 345.7h0M254.3 346.1h0M265.6 343h0M290.3 340.9h0M266.6 335h0M274.9 345.4h0M262.1 342.6h0M241.2 338.4h0M281.2 347.3h0M267.3 334.9h0M266.1 335.5h0M269.2 351h0M278.9 340.9h0M292.1 338.9h0M279.6 342.4h0M281.1 334.8h0M286.6 345h0M231.3 332.9h0M257.8 349.9h0M274.1 345h0M283.8 345.2h0M261.8 340.2h0M280.5 344.2h0M284 342.7h0M265.1 347.6h0M282.4 346.2h0M227.8 350h0M229.3 346.3h0M261.5 343.4h0M264.8 341.2h0M277.1 343.3h0M258.1 331.7h0M259.5 345.5h0M258.3 345.1h0M266.5 338.2h0M295.3 347.9h0M271.6 341.9h0M290.5 334.7h0M258 348.3h0M289.7 338.5h0M259.5 344.7h0M247.7 341.7h0M268.4 331.2h0M284.5 344.7h0M292.5 334h0M249.8 340.1h0M250.4 353.1h0M255.6 341.9h0M277.4 343.8h0M299.6 335.1h0M289.6 341.5h0M252.1 344.3h0M248.4 351.3h0M260.5 347.6h0M297.1 337.4h0M257.1 343.8h0M254.6 347.5h0M276.5 338.3h0M261.2 346.2h0M247.5 351.7h0M259.1 342.2h0M257.1 350.7h0M289 346.8h0M285.5 341.5h0M304.8 342.7h0M281.7 344h0M287.1 342.3h0M269.9 334.9h0M310.9 333.2h0M233.7 341.7h0M309.4 344.9h0M262.5 344h0M272.4 333h0M267.5 343.8h0M294.6 334.9h0M231.5 337.9h0M279.6 341.9h0M276.3 342.5h0M266.3 336.3h0M282 343.1h0M284.6 346.9h0M249.9 333h0M241.4 354.3h0M256.8 345.1h0M273.5 345.4h0M332.5 335.2h0M270.2 339.5h0M278.2 344h0M256.1 349.4h0M294.8 342.5h0M271.4 341.1h0M243.4 347.3h0M255.3 341h0M291.6 336.4h0M264.2 346.7h0M307.5 336.3h0M293.6 337.5h0M280.8 343.7h0M252.9 348.3h0M306.7 339.7h0M278.1 336.2h0M306.5 339.8h0M250.2 347.3h0M246.3 340.9h0M234.7 351.3h0M314.1 336h0M261.2 340.3h0M263.3 345.3h0M300.1 335.4h0M281 333.1h0M301.6 339.5h0M261.1 350h0M272 348.4h0M293.9 348.1h0M258.8 343.4h0M280.2 340.6h0M301.3 336.6h0M292.5 346.9h0M237.1 340.3h0M256.6 340.7h0M280.6 340.7h0M274.8 339.8h0M272.2 344.3h0M287 337.4h0M271.1 338.7h0M269.7 335.7h0M291.3 343.8h0M271 339h0M264.9 339.6h0M245.6 351.6h0M333.8 331.8h0M252.2 346.3h0M284.1 333.9h0M238.2 347.2h0M237.2 351.3h0M264.4 343.1h0M273.2 339.4h0M270.8 340.8h0M296.4 339.9h0M272.7 339.6h0M261.5 339.5h0M274.3 350.4h0M294.2 341.5h0M304.6 344.3h0M277.3 341h0M253.3 344.7h0M267.1 335.2h0M250.5 352.7h0M277.6 344h0M277 339.6h0M282.4 346.3h0M268 344.8h0M292.2 338.4h0M276.4 338.4h0M284.5 339.5h0M294.4 336.9h0M304.6 338.2h0M257.7 339h0M285.4 337.2h0M307.2 345.4h0M282.6 334.8h0M272.8 338.7h0M240.2 346.5h0M313.9 336.5h0M288.9 346.8h0M255.7 341.8h0M278.6 343.8h0M252.4 344.6h0M271.9 346.5h0M243.8 341.6h0M264.1 341.2h0M286.6 338.1h0M323.8 335h0M289.3 345.5h0M291.2 339.7h0M258.1 342h0M285.8 341.6h0M284.4 343.8h0M256.9 338.9h0M299.9 337.8h0M244.9 352.7h0M257.8 338.9h0M291 335.5h0M257.8 348h0M259.2 354.6h0M276.2 354.2h0M275.9 342.1h0M261.6 341.9h0M264.3 342.6h0M287.3 335.1h0M255.8 333.7h0M301.2 339.6h0M273.2 341.8h0M292.1 342.1h0M289.1 340.1h0M271.2 341.9h0M239.5 349.6h0M244 339.6h0M285.9 341.3h0M289.1 348.7h0M308.3 345.8h0M270 351.7h0M257.2 342.8h0M291.8 339.6h0M271.1 340.5h0M297.8 328.8h0M297.3 345.1h0M272.4 344.7h0M256 348.4h0M329.6 333.5h0M299.2 339.8h0M267.1 340.2h0M269.6 336.5h0M249 351.5h0M273.4 344.6h0M279.4 343.8h0M245 339.8h0M285.5 345.7h0M252.2 340.9h0M254 346.5h0M279.9 341.7h0M261.6 344.5h0M273.8 338.5h0M279.4 338.5h0M291.3 343.6h0M261 345.6h0M274.5 338.7h0M256.1 335.6h0M252.8 345.2h0M295.6 337.4h0M276.6 343.4h0M288.1 343h0M296.4 343.8h0M259.6 344.9h0M230.2 344.4h0M274.1 344.6h0M268.2 346.2h0M297.6 336.3h0M263.6 343.9h0M282.6 342h0M288.4 335.4h0M288.2 346.3h0M294.1 342.4h0M269.3 344.2h0M271.6 334.8h0M262.3 342.7h0M263.7 338.4h0M269.1 340.6h0M274.8 341.7h0M277 346.3h0M276.2 343.7h0M249.9 330.2h0M266.3 345.7h0M267 339.6h0M250.9 347.8h0M263.9 343.9h0M294.5 342.9h0M314.8 338.3h0M291.4 343.9h0M261.4 343.1h0M262.7 338.1h0M278.8 338h0M304.2 336.3h0M263.5 343.2h0M264 343h0M261.8 336.3h0M228.5 339.4h0M301.7 341.9h0M276.2 339.7h0M270.9 343.6h0M247.6 340.3h0M257.5 349h0M254.4 348.8h0M265.8 355.1h0M272.1 342.3h0M298.7 344.1h0M290.5 335.8h0M295 348.1h0M271.4 339.9h0M253.7 348.2h0M278.9 341.6h0M251.3 351.1h0M289.6 340.7h0M300.4 335.6h0M289.4 336.2h0M299.4 338.8h0M295.9 338.4h0M281.2 346.7h0M256.9 343.7h0M258.3 347.1h0M262.2 341.1h0M270.2 347.6h0M254.3 343.3h0M267.2 339.9h0M258.9 342.4h0M276.6 334.6h0M277.4 336.2h0M274.6 352.4h0M255.6 343h0M269.1 346.9h0M264.1 334.5h0M243.8 345h0M278.5 346.5h0M263.8 345.8h0M254.3 349.4h0M272 339h0M277.4 349.7h0M257.4 337.5h0M254.4 338.1h0M272.7 343.7h0M270.5 343.1h0M295.3 339h0M249.6 333.3h0M277.7 338.5h0M269 344.2h0M281.5 334.2h0M255.9 343.7h0M271.2 347.5h0M263.5 333.2h0M294.5 332.9h0M255.7 345.1h0M254.8 354.9h0M278.1 344.1h0M266.2 352.8h0M283.2 338h0M296.1 332.5h0M262.8 344.1h0M275.7 337.4h0M303.2 346.6h0M256.4 345h0M261.6 340.9h0M291.7 341.2h0M271.5 342.6h0M252.3 349.2h0M260.1 349h0M264.9 340.5h0M301 340.8h0M261.5 340.4h0M285.3 349.7h0M284.7 339.3h0M252.6 340.5h0M271.4 343.3h0M261.8 348.8h0M255.6 340.1h0M282.8 343.5h0M266.6 347h0M248.1 351.4h0M314.5 347.9h0M276.4 350.9h0M274.9 348h0M269.9 343.2h0M282.6 333.3h0M270.3 350.2h0M219.7 347.8h0M290.6 342.2h0M277.6 348.1h0M279 332.9h0M256 342h0M276 339.7h0M272.1 349.8h0M219.8 351.3h0M291 343.5h0M273.8 342.3h0M280.3 342.6h0M260.4 346.6h0M258.3 343h0M266.5 337.2h0M284.6 340.8h0M252 343.3h0M248.6 350.5h0M283.7 350.4h0M263.3 346h0M255.4 339.4h0M272 344h0M290.4 339.5h0M294.1 344.9h0M257.3 342.4h0M257.2 351.1h0M263.7 346.8h0M290.2 339.6h0M264.7 344.2h0M258.8 337.3h0M255.9 344.9h0M277.6 349.8h0M240.1 346.8h0M252.7 348.9h0M286.3 341.6h0M300.5 338.3h0M263.4 337.9h0M261.5 343.4h0M286.3 346.9h0M268.3 339h0M267.2 340.5h0M264.8 340.8h0M257.5 343h0M264 341.9h0M248.1 344.6h0M284.2 344.2h0M263.1 337.6h0M249.2 338.5h0M261.6 341.5h0M241.2 347.5h0M245.1 341h0M260.6 346.8h0M307 337.9h0M268.3 340.6h0M269.8 341.5h0M318.3 333.7h0M271.2 338.6h0M279.8 339.1h0M283.6 336.3h0M312.2 340.1h0M241.4 347.6h0M264.5 337.4h0M281.4 339h0M286.8 338.5h0M290 341.4h0M280.1 342.2h0M266.7 340.9h0M282 344.6h0M266.8 352.7h0M304 334.5h0M293.3 340.2h0M277.5 338.1h0M303.4 336h0M271.8 338.8h0M309.2 345h0M249.3 341.8h0M280 339.6h0M266.7 337.6h0M277.7 336.7h0M289.5 351.7h0M268.1 349.9h0M280.1 338.5h0M266.9 338.1h0M275.8 345h0M290.4 339.5h0M251.8 343.3h0M304 341h0M271.6 332.7h0M265.8 345.1h0M256.7 349.4h0M262.9 338.9h0M262.9 342.4h0M291.5 338.1h0M241.1 344.1h0M283.5 348.2h0M253.6 350.2h0M286 343.1h0M259.3 339.1h0M256.5 347.5h0M277.8 346.5h0M306.5 339.6h0M273.3 350.7h0M249.7 341.8h0M266.7 340.8h0M275.8 338h0M294.1 334.3h0M258.1 335.5h0M248.3 346.6h0M284.9 340.3h0M289 343.6h0M263 342.6h0M280.8 350.6h0M265.6 344.3h0M283.8 346.8h0M281.6 346.3h0M254.1 342.3h0M238.4 344.4h0M315.9 339.9h0M275.2 343.1h0M275.7 335.9h0M260.9 342.2h0M276.3 337.9h0M271.3 338.9h0M249.4 340.9h0M259.2 346.9h0M298 342.8h0M269.5 339.8h0M244.8 341.8h0M302.3 345.1h0M277.5 340.6h0M273.7 343.9h0M273.5 344h0M259.5 343.3h0M267.5 347.3h0M251.4 349.5h0M271.8 339.9h0M273.9 342.6h0M269.4 344.2h0M262.5 335.2h0M286.1 341h0M303.8 341.5h0M237.6 350.3h0M261.2 345.4h0M314.1 343.9h0M253.6 343.1h0M244.6 347.2h0M283.4 336.7h0M282 345.6h0M287.9 337.9h0M260.6 338h0M250.2 345.2h0M274.7 347.8h0M278.4 340.2h0M248.2 350.9h0M276.5 341.7h0M254.9 338.7h0M284.7 336.8h0M284.3 344h0M266 335.3h0M281.4 347.8h0M258.1 337.5h0M293.3 341.2h0M262.6 348.4h0M268.6 344.4h0M266 339.2h0M277.2 337.9h0M241.2 342h0M296.2 345.3h0M313.2 343.5h0M302.8 341h0M265.8 344.7h0M256.6 346.6h0M265.5 343.8h0M258 342.6h0M291.2 339.7h0M261.4 344.2h0M289.4 340h0M251.8 336.7h0M249.6 348.6h0M272.1 344.3h0M293 341.9h0M282.1 339.1h0M244.6 347h0M272 344.7h0M254.2 342.9h0M309.7 335.6h0M275.7 347.7h0M269.4 342.9h0M235.2 348.4h0M266 348.4h0M271.7 340.5h0M281.3 340.4h0M264.7 349.6h0M291.3 341.2h0M288.4 344.6h0M284 341.5h0M275 343.8h0M283.8 342.9h0M263.5 342.5h0M281.5 337.1h0M273.6 345.4h0M276.5 340.6h0M272.9 340h0M291.1 339.1h0M243 339h0M279 342.6h0M264.5 336.9h0M270.5 338.6h0M261.6 342.9h0M259.8 344.5h0M260 341h0M269.9 348.8h0M302.3 344.1h0M260.2 343.1h0M290.3 344.4h0M244.1 344h0M260.4 346.4h0M284.8 338.8h0M312.1 337.9h0M317.6 338h0M272.6 350.5h0M263.8 340.7h0M300.1 339.9h0M281.7 335.9h0M306.1 344h0M280.2 344.7h0M264.3 340.7h0M245.3 345.8h0M296.1 344.1h0M290.3 343.9h0M256.5 337.6h0M285.1 341.9h0M291.2 339.5h0M257.7 345.2h0M262.9 335.6h0M262.2 339.1h0M253.2 341.2h0M291.4 351.1h0M304.6 337.9h0M294.1 340.2h0M280.6 338.6h0M271.6 334.8h0M305.6 336.3h0M283.9 338.7h0M278 336.6h0M267 346.6h0M283.6 332.8h0M288.5 335.2h0M278.8 344h0M261.8 341.6h0M269.2 344.2h0M290.5 346.8h0M280.1 350.3h0M257 351.1h0M269 345.8h0M271.3 342.6h0M257.1 345h0M310.1 340h0M273.1 342.1h0M286.3 340.2h0M273.5 343h0M297.3 344.5h0M254.3 340.8h0M274.1 345.7h0M290.9 339.9h0M311.9 338.5h0M299.4 346.4h0M302.4 340.8h0M283.4 334.6h0M241.2 341.8h0M286.8 345.7h0M272 346.7h0M284.4 347.9h0M244.5 340.6h0M255.9 338.8h0M303 335.8h0M258.4 341.5h0M289.3 338.9h0M287 343.5h0M261.2 332.6h0M256.5 337.9h0M302.8 336.7h0M254.3 345.2h0M274.2 337.9h0M293.6 344.6h0M278.3 338.4h0M257.1 334.3h0M280.6 343.3h0M256.9 343.4h0M332.4 332.7h0M242.8 347h0M265.6 340.5h0M284.7 340.7h0M291.7 343h0M294.5 341h0M234.9 350.9h0M243.1 348.9h0M277.6 335.7h0M275 345.8h0M255 343.6h0M259.8 338.7h0M262.8 348.5h0M285.9 341h0M272.1 342.7h0M278.7 342.5h0M242.7 348.4h0M257.2 331.9h0M285.8 335.8h0M270.9 341.8h0M263 345.2h0M268.5 341.2h0M256.1 342.1h0M254.8 343.6h0M297.8 344.7h0M280.8 335.5h0M292.4 344.7h0M310.1 329.4h0M273.7 340.6h0M292.9 335.8h0M267.4 352.7h0M290.9 332h0M274.3 348h0M262.5 345.5h0M274.8 335.5h0M262.5 347.9h0M294.8 337.8h0M293.7 337.4h0M278 341.6h0M251 345.1h0M265.6 330.6h0M258.2 339.5h0M258 338.9h0M260.2 332.3h0M289.7 341.1h0M278 340.5h0M274.6 340.8h0M253.2 336.9h0M275.2 346.4h0M278.3 348.8h0M248.7 342.7h0M262.7 348.3h0M304.1 337.4h0M286.7 340h0M255.3 342.9h0M255.1 350.2h0M284.6 346.4h0M279.2 330.9h0M288.1 341.3h0M230.3 345.7h0M292.4 348.1h0M255.2 346.9h0M279.5 340.8h0M268.5 344.7h0M284.2 344.1h0M265.7 336.8h0M297.9 345.9h0M263.2 342.7h0M287.6 333.2h0M283.4 352h0M278.2 338.6h0M310.6 339.3h0M277.2 339.9h0M276.2 333.9h0M249.7 337.3h0M289.8 340.4h0M293.7 331.5h0M263.1 349.2h0M258.5 334.9h0M259.9 341.5h0M273.7 347.8h0M298.1 347h0M283.9 339h0M264 336.2h0M297 345.8h0M274.8 338h0M285.9 343.2h0M275.9 336.7h0M277.7 339.2h0M287.1 343.6h0M281.3 339.5h0M301.4 343.3h0M296.8 344h0M285.7 342.8h0M253.5 335.5h0M256.7 346h0M290.1 341.6h0M275.7 350h0M265.7 334.7h0M245.4 342.7h0M286.4 344.3h0M269.8 345.9h0M272.4 338.9h0M266.9 345.8h0M290.4 335.8h0M255.6 343.9h0M311.6 334h0M251 345.6h0M282.5 338.6h0M273.2 344.2h0M241.9 344.3h0M284.7 345.2h0M294.6 340.1h0M247.9 349.9h0M287.2 338.2h0M292.6 345.2h0M270.2 331.8h0M264.8 339.3h0M258.3 342.8h0M254.1 345.2h0M307.3 334.2h0M292.1 338.3h0M283.3 340.7h0M296.5 337.1h0M286.5 337.6h0M277.6 341.6h0M292.7 333.6h0M249.6 350h0M281 348.9h0M255 344.3h0M285 349h0M272.4 340.1h0M286.4 340.6h0M260.2 346.4h0M238.8 340.1h0M297.9 338h0M267.8 344.1h0M293.9 342.8h0M255.9 340.8h0M292.4 340.1h0M262.4 346.7h0M294.8 350h0M253.9 340.4h0M261.1 344.5h0M265.3 347.6h0M225.3 349.9h0M261.8 341.7h0M283.8 342.1h0M255.7 350h0M283.7 339.1h0M276.9 336.9h0M251.3 342.3h0M280.1 342h0M259.1 337h0M243.8 351.3h0M279.9 338h0M295.1 342.8h0M265.9 339.9h0M294.1 341.9h0M303.1 341.4h0M262.8 340.2h0M260.9 344.1h0M278.3 344.3h0M281.3 336.8h0M269.5 338.1h0M281.7 335.6h0M262.8 339h0M262.3 341.7h0M300.6 338.8h0M247.6 342.6h0M287.1 343.4h0M278.5 350.4h0M293.5 340.9h0M294.9 334.5h0M270.2 338.4h0M277.2 348.9h0M265.1 349.7h0M255.6 349.7h0M242.8 340.5h0M291.4 340.3h0M276.1 341.7h0M276.7 341h0M255.8 342h0M275.2 337.9h0M282.5 349.1h0M243.9 341.8h0M268.5 342.5h0M275 338.7h0M272.9 342.1h0M272.5 348.9h0M275.3 335.3h0M245.6 346.7h0M267.2 339.7h0M249.1 342.5h0M271.6 339.1h0M267.5 346.4h0M287.7 343.4h0M269.9 336.3h0M287.9 347.5h0M296.7 345.4h0M278.6 343.3h0M273.7 347.5h0M269.4 351.8h0M287.3 339.5h0M273 334.9h0M260.3 341.7h0M317.1 335.1h0M290 341.1h0M268.4 345.2h0M238.1 348.8h0M308.3 340.7h0M272.4 342.8h0M285.2 339h0M275.8 344.1h0M267.4 344.2h0M279.7 344.7h0M255.6 341h0M266.3 347.8h0M277.4 334.4h0M251.3 352.3h0M279.1 335.8h0M257.2 343.9h0M299.6 347.2h0M266.9 341.2h0M307.6 335.1h0M301.6 341.4h0M275.6 347.5h0M281.9 337.7h0M246.2 344.1h0M283.1 347.3h0M227.1 351.4h0M285.1 347.8h0M287.8 341.9h0M281.4 343.2h0M262.2 342.3h0M275.7 339.8h0M246.8 337.6h0M282.7 343.6h0M275.1 336.7h0M288.6 339.1h0M236.9 351.7h0M247.5 353.9h0M282.9 339.3h0M231.2 342.1h0M300.5 346h0M277.6 334.1h0M266.6 341.3h0M281.7 340.8h0M279.1 334.3h0M262.5 349.2h0M247.8 348h0M315.1 341.8h0M249 349.4h0M240.4 346h0M266.6 348h0M294.7 341.3h0M305.9 343.9h0M264.6 338.3h0M317.5 336.9h0M280.8 340.9h0M264.5 335.5h0M270.9 341.7h0M290.9 338.4h0M245.1 339.4h0M272.9 343.2h0M286.4 339.3h0M283.2 341.9h0M303.7 339.5h0M276.3 344.3h0M295 336.3h0M264.9 341.4h0M235.7 350.6h0M292.7 340.7h0M334.2 343.1h0M310.3 346.2h0M289.3 334.5h0M301.1 341.8h0M252.1 343.8h0M287.4 345.3h0M276.5 339.5h0M287 337.6h0M272.4 345.5h0M247.8 345.6h0M238.1 340.5h0M251.4 343.3h0M286.3 340.8h0M289.9 341.2h0M270 344.5h0M269.3 342.9h0M292 338.1h0M293.8 335.6h0M269 334.6h0M264.5 349.7h0M280.3 347.1h0M246.8 339.5h0M282.1 345h0M287.9 333.5h0M282.6 341h0M275.8 343.9h0M267.9 334.9h0M253.9 337h0M249.9 343.2h0M296.7 337.1h0M259.4 337.9h0M242.5 344.6h0M264.7 341.6h0M256.4 345.5h0M252.1 346h0M261.9 346.4h0M257.7 345.2h0M281.4 341.1h0M302.9 340.6h0M257.8 346.3h0M258.5 340.7h0M273.8 342.8h0M303.5 332h0M269.3 347.3h0M270.7 343.6h0M300.5 334.5h0M274.6 345.5h0M262.4 335h0M255.6 344.2h0M277.5 349.9h0M296.8 333.4h0M292.4 344.7h0M302.6 339.1h0M263.6 343.4h0M301.5 342.7h0M304.3 343.2h0M262.6 338.3h0M306.3 332.8h0M267.1 341.1h0M256.9 340.7h0M274.4 352.5h0M272.2 339.8h0M276 346h0M258.7 341.3h0M242.3 347.5h0M286.2 347.7h0M252.7 353.3h0M289.1 339.6h0M266.4 341.2h0M252 347.1h0M262.3 339.6h0M282.8 341.8h0M262.9 341.7h0M265.1 348.6h0M291.3 337.4h0M273.2 348.1h0M268.9 350.3h0M281.7 344.4h0M236.4 348.6h0M279.8 344.1h0M282.3 343.7h0M264.7 346.7h0M274.3 337.3h0M255.2 344.1h0M278.8 331.7h0M236.7 349.5h0M274.2 354.7h0M245.8 343h0M262.9 345.3h0M299.4 347.3h0M255.8 348.9h0M251.7 345h0M276.8 344.5h0M259.6 349h0M272.3 342h0M268.3 337.6h0M286.6 342.5h0M282.3 349.7h0M257.8 341.9h0M273.9 345.8h0M270.6 346.4h0M281.1 333.6h0M260.5 333.9h0M268.2 340.5h0M284.2 342h0M272.8 347.7h0M283.8 335.7h0M261.2 344.4h0M304.1 338.8h0M270.5 343.4h0M287.6 340.5h0M278.7 339.7h0M263.3 339.2h0M285.2 338.6h0M283.5 343.1h0M290.1 328.7h0M255.7 337.9h0M270.8 345.8h0M319.7 345.5h0M298.1 341.9h0M266.7 344.9h0M234.6 349.1h0M273.9 344.7h0M254.6 338.5h0M261.9 342.7h0M279.7 339.9h0M280 344.6h0M252.6 343.1h0M245.3 341.7h0M289.6 337.6h0M307.2 341.7h0M289.6 341.3h0M289.5 345.7h0M275.3 339.5h0M264.2 351.4h0M270 340.2h0M260.2 335.4h0M264.6 344.1h0M264.5 339.3h0M281 343.5h0M265.7 344h0M256.3 347.2h0M255.6 341.8h0M275.8 339.9h0M253.6 352.9h0M300.3 332.2h0M275.3 336.2h0M278.7 335.8h0M284.2 343.6h0M304.7 345.1h0M265.6 346.8h0M265.2 342.1h0M263.9 334.8h0M283.7 332.1h0M269.4 344.7h0M275 334.8h0M262 345.9h0M293.9 347.6h0M240.9 346.5h0M265.1 346.1h0M243 343.7h0M286 338.2h0M266.6 338.1h0M293.1 334.6h0M256.9 341.8h0M268.5 351.9h0M278.2 337.9h0M284.1 342.7h0M278.6 341.3h0M281.4 336.1h0M251.7 341.7h0M253.8 346.6h0M308.9 344.9h0M281.7 342.9h0M260.7 337.1h0M282.9 334.7h0M278.9 341h0M287.1 341.2h0M275.2 339.3h0M242.3 342.8h0M286.4 345.7h0M298 335.7h0M256.9 346.4h0M266.2 354.1h0M278.7 334.8h0M264 349.8h0M240.7 345.2h0M249 351h0M265.1 338h0M242.5 341.1h0M227.3 343.3h0M312.8 339.5h0M268.3 337.2h0M279.5 339.4h0M258.7 349.3h0M281.1 337.4h0M300.1 339.8h0M282.6 342h0M295 343.2h0M267.5 345.7h0M266.5 343.1h0M302.7 335h0M254.7 341.6h0M264.9 348.5h0M245.6 354.4h0M301.9 337.8h0M276.7 340.1h0M285.8 344.1h0M287.3 344.4h0M308.3 338.6h0M286.1 340.2h0M274.3 342.9h0M272.7 343.6h0M258.1 342.5h0M262.2 337.6h0M260.6 340.7h0M270.3 335.2h0M268.5 337.3h0M258.8 344h0M293.6 341.8h0M264.5 340.7h0M297.1 332.9h0M293.6 333.7h0M262.1 343.1h0M270.1 349.7h0M282.4 341.1h0M290.7 340.9h0M259.3 348.1h0M301 345.7h0M252.9 352.1h0M266.2 346h0M295.8 351h0M244 339.6h0M295 342.6h0M266.9 329.3h0M281.4 340.6h0M227.2 357.5h0M228.1 342.9h0M273.5 343.1h0M287 339.8h0M257.2 341.6h0M235.1 339.8h0M309 336.2h0M272.7 350.6h0M292.6 341.1h0M286.7 339.8h0M257.5 347.7h0M276.5 349h0M268.6 340.7h0M279.7 340.7h0M267.6 338.4h0M278.2 343.1h0M306.6 339.4h0M241.9 346.5h0M314.7 336.9h0M259 342.3h0M221.7 344.4h0M269.6 335.5h0M283.6 337.3h0M239.8 341.3h0M285.6 349.8h0M296.2 341.2h0M264.2 341.5h0M290.8 338.4h0M281.4 345.8h0M256.9 340.6h0M281.6 341.4h0M271.1 339.8h0M273 350.4h0M297.5 332.9h0M274.4 342.4h0M273.7 335.8h0M271.2 342.8h0M261.3 344.3h0M228.9 338.5h0M275.5 343.6h0M270.3 340.2h0M277.2 346.6h0M289.7 340.4h0M265.4 347.4h0M283.6 345.2h0M268.2 338.5h0M276.7 338.9h0M294.6 344.3h0M234.2 348h0M298 344.8h0M264.6 338.8h0M291.4 345.2h0M274.2 336.7h0M245.9 345.3h0M258.3 340.1h0M281.9 346.1h0M235.9 341.8h0M297 340h0M267.5 345.3h0M252.5 338.1h0M274.4 349h0M291.9 340.6h0M291.7 338.8h0M251.6 336.1h0M278.7 345.7h0M280.2 341.3h0M266.6 347.4h0M272.2 335.6h0M298.1 337.2h0M280.6 341.5h0M292.7 341.7h0M295.8 341.3h0M265 340.3h0M285 337.4h0M290.2 339.7h0M256.4 339.3h0M271.5 350.2h0M287.5 341h0M257.7 351.8h0M268.5 342.4h0M266.3 348.6h0M276.5 339.7h0M276.5 337.3h0M254.4 342.7h0M221.8 351.2h0M309.2 334.3h0M270.4 335.1h0M276.7 342.7h0M286.5 335h0M262.4 339.9h0M269.8 352.6h0M269.9 342.1h0M264.6 346.3h0M320.3 343.7h0M300.9 335.1h0M292.7 340.7h0M296.5 345.1h0M284.8 333.6h0M275.8 339.6h0M281.6 341.6h0M292 333.4h0M260.1 342.7h0M279.2 339.7h0M273 342.3h0M292.5 340.1h0M277.3 333.5h0M225.6 339h0M279.2 331.1h0M280.9 341h0M273.3 338.7h0M266.2 346.3h0M280 341.4h0M264.7 343.6h0M295.1 340.3h0M266.4 337.2h0M275 337.7h0M247.7 347.9h0M261.5 333.7h0M261.1 351.3h0M271.1 336.2h0M253.7 346.7h0M281 342.4h0M270.1 344.4h0M301.6 342.1h0M270 335.9h0M282.1 348.5h0M284.8 335.5h0M277.3 347.6h0M262.1 345.1h0M296 347.7h0M244 336.3h0M280.5 344.7h0M267.1 342.4h0M266.5 348h0M233.4 346.2h0M250 340.7h0M245.4 340h0M273.1 342.2h0M305.9 338.6h0M279.9 343.1h0M278.7 348.3h0M276.1 342.5h0M271.5 342.2h0M272.8 346.6h0M273.9 342.3h0M272.9 345.5h0M265.2 346.9h0M263.3 345.9h0M308.5 340.4h0M271.5 336.8h0M286.9 341h0M289.8 337.8h0M283.6 349.5h0M280.7 340h0M249.8 343.7h0M285.7 343.8h0M252.8 338.9h0M255.4 338.7h0M268.6 343.6h0M308.6 340.3h0M299.4 332.5h0M301.8 343.5h0M281.8 345.1h0M285.4 349.8h0M287.6 333h0M242.2 351.7h0M272.4 348.1h0M267 339.5h0M267.4 343.9h0M276.7 338.9h0M283.5 344.1h0M256.4 338.2h0M237.7 343.3h0M273.5 338.8h0M262.5 342.2h0M274.2 344.5h0M288.8 342.8h0M293.6 336.1h0M284.7 342.9h0M254.3 340.4h0M281.6 341.7h0M250.4 341.2h0M301.6 343.7h0M275.4 348h0M256.9 342.5h0M290.9 339.2h0M253.3 346.2h0M301.8 328.3h0M275.9 336.1h0M267.6 336h0M320.7 335.4h0M274.1 338.7h0M255.3 341.3h0M277.9 349.7h0M279.3 348.7h0M254.1 343.8h0M265 335.5h0M341.4 335.8h0M277.7 338.2h0M262.7 338.1h0M292.1 338.8h0M270.9 343h0M251.2 344.7h0M270.5 344.3h0M266.5 342.7h0M283.3 345.7h0M261.3 347.4h0M255.5 342.5h0M275.9 342.5h0M227.6 341h0M270.5 346.4h0M261.2 349.8h0M240.7 344.8h0M283.3 341.3h0M278.6 345.9h0M259 345.8h0M292.8 339.5h0M230.9 339.8h0M257.6 338.4h0M281.1 337.8h0M318.9 341.2h0M249.6 342.5h0M301.6 343h0M255.3 348.1h0M265.6 352.7h0M263.6 345.5h0M283.6 339.2h0M271.1 347.5h0M282.6 341h0M282.2 349.3h0M290.7 342.9h0M279 334.5h0M275.8 339.6h0M286.6 338.2h0M281.3 336.6h0M289.6 337.5h0M273.2 344.7h0M267.6 342.5h0M293.4 348.6h0M240.3 340.4h0M286.1 345.3h0M264.9 343.1h0M270.8 352.6h0M269.5 336.9h0M244.8 338.3h0M297.1 338.5h0M309.3 342.2h0M280.7 344.4h0M288.2 345.1h0M255.5 340.8h0M263.5 343.2h0M268.5 336.8h0M261.5 351h0M311.9 335.2h0M280.4 341.3h0M258.3 346.4h0M272.8 349.7h0M281.7 340h0M225.2 345.2h0M288.7 337.6h0M289.8 343.9h0M241.3 343.5h0M279.6 345h0M276.3 341.7h0M267.1 341.2h0M273.2 337.2h0M285.1 339.6h0M282.8 339h0M281 342h0M289.9 342.9h0M290.4 340h0M272.4 340.9h0M250.6 343.2h0M293.6 344h0M258.1 344.5h0M286.7 334.8h0M280 343h0M287.2 342.1h0M241.1 335.3h0M309.5 337.5h0M297.1 346h0M274.7 336.7h0M298.4 340h0M283.1 343.5h0M291.2 345.3h0M247.1 337.6h0M276.1 341.8h0M287.6 340.3h0M270.9 351.4h0M298.9 345.4h0M292.1 337h0M271.9 341.8h0M253.3 339.6h0M276 336.3h0M283.5 343.4h0M269.1 340.8h0M284.6 343.3h0M279.7 336h0M244.6 353.5h0M261.5 341.2h0M240 340.9h0M260.4 346.6h0M224.9 339.3h0M265.8 340.3h0M259.2 341.1h0M244.9 345.4h0M295.3 341.1h0M264.2 348.4h0M282 336.7h0M262.9 340h0M273.1 347.5h0M260.6 342.3h0M275.1 336.5h0M265 345.4h0M293.5 332h0M286.3 339.7h0M297.2 343h0M309.5 340.7h0M266 338.8h0M247.6 346.5h0M283.2 345h0M279.4 334.8h0M266 341.5h0M276.7 345.2h0M299.5 341.3h0M235.5 340.2h0M234.3 341.5h0M251.7 344.7h0M269.8 347.3h0M293 338.5h0M290.7 340.8h0M282.3 347.4h0M252.5 343.3h0M301.3 336.5h0M277.5 342.3h0M265.5 336.7h0M260.7 338.5h0M293.3 341.6h0M285.9 335.7h0M282.7 342h0M292.4 337.3h0M288.7 347.1h0M306.1 335.3h0M252.5 337h0M291.2 343.4h0M279.4 337.6h0M296.9 347.5h0M272.8 341.5h0M295.4 342.6h0M297.9 338.3h0M279.6 340h0M263 341.4h0M268.5 344.7h0M268 342.7h0M258.4 337.6h0M299.2 335.6h0M306.9 343.7h0M231.6 342.3h0M265.9 342.7h0M270.1 339.5h0M296.3 339.7h0M290.8 337.6h0M261.4 348.9h0M268 337.5h0M270.8 347h0M270.3 339h0M285.4 345.5h0M269.6 340.9h0M267.8 354.6h0M270.7 350.1h0M271 344h0M236.5 345.6h0M274.4 340.5h0M265.6 336.4h0M246.5 344.8h0M261.9 342.5h0M270.1 340h0M260.9 351.3h0M253.3 341.2h0M267.8 337.2h0M256.3 347.2h0M290.5 341.3h0M332.9 341.3h0M295.7 336.7h0M293.8 348.1h0M267.3 350.6h0M258.5 338h0M272.4 338.4h0M284.8 336.2h0M274.4 333.1h0M273.3 346.8h0M268.8 343.8h0M293 335.6h0M250.4 344.1h0M278.5 340.4h0M256.3 348.8h0M252.3 342.4h0M273 345.3h0M265.1 338.9h0M309.9 335.5h0M288 340.2h0M264.9 342.5h0M269 343.7h0M227.2 345.4h0M274.5 337.5h0M267.3 353h0M307.4 342.3h0M277.7 340.3h0M298.7 338.1h0M258.9 346.2h0M255.7 339.8h0M299.4 332.8h0M272.4 342.6h0M277.8 335.1h0M269.3 340.8h0M308.9 343.9h0M260.1 346.9h0M285.4 340.6h0M269.1 341.1h0M245.3 341.3h0M291.1 347.2h0M307.2 337.8h0M284 330.4h0M268.2 336.7h0M288 333.4h0M254.2 338.5h0M281.1 345.2h0M257.4 351.3h0M276.2 338h0M279.9 341.5h0M288.8 342.4h0M313.8 344.2h0M262.2 346.4h0M287.1 336.5h0M259.7 339.4h0M228.9 348.2h0M270.1 347.8h0M263.4 343.1h0M287.1 345.3h0M279.1 336.9h0M314 342.9h0M298.9 347.4h0M299.3 341.9h0M282.4 344.2h0M246.5 347.7h0M256 345.2h0M255.4 346.6h0M265.6 353.8h0M277.3 344h0M257 341.9h0M272.5 340.8h0M265.4 338.7h0M287.4 339.2h0M258.9 344.7h0M258.8 342.3h0M264 338.6h0M269.2 338.6h0M250.9 345.3h0M267.7 335.9h0M266.5 343.4h0M281.5 343.1h0M278.4 344.3h0M264.4 339.1h0M284.6 339.3h0M274 344.9h0M291.1 346.2h0M261 341.3h0M283.3 334.8h0M251 346.4h0M262.2 338.7h0M288.4 343.3h0M290.2 339.3h0M268.3 340.9h0M278.4 332.5h0M261.3 346.1h0M259.5 342.8h0M276.1 344.1h0M264.6 337.6h0M318.8 335.4h0M304.1 331.8h0M275.6 341h0M308.7 348.5h0M291.1 336.1h0M258.8 339.7h0M264.4 343.9h0M259.3 342h0M300.9 346.4h0M239.6 340.3h0M267.3 348.3h0M268.3 351h0M280.8 347.9h0M258 341.8h0M292.4 343.1h0M239.7 343.3h0M277.1 344.6h0M262.7 350.6h0M276.9 348.2h0M281 341.8h0M267.5 337.2h0M289.6 344.2h0M290.5 339h0M255.3 341.7h0M268 342.4h0M291.2 336.6h0M265.1 345.7h0M290.8 350.6h0M282.9 337.5h0M254.6 339.9h0M275.1 343h0M272.3 339.4h0M270.3 341.9h0M284.5 341.6h0M258.6 337.9h0M300.5 339.6h0M270.5 342.1h0M294 339.1h0M276.8 340.7h0M283.9 336.7h0M277.7 346.3h0M295.4 343.1h0M279.6 348.6h0M287 347.2h0M251.6 338.7h0M288.1 339.7h0M265.6 338.4h0M300.2 334.7h0M275.2 335.7h0M271.3 352.2h0M317.6 336.5h0M256 350.6h0M257.6 335.2h0M279.7 336.7h0M247.9 349h0M260.2 338.3h0M276.7 340.9h0M294.1 340.9h0M302.9 344.9h0M306.3 344.6h0M275.2 344.3h0M273.6 335.1h0M252.7 346.9h0M230.8 341.5h0M250.5 343.5h0M255.1 344.5h0M270 340.2h0M257.7 333.3h0M274.7 336.2h0M268.6 344h0M292.9 343.7h0M300 333.7h0M286.5 348h0M280.5 336.5h0M280.8 339.1h0M262.5 347.6h0M270.2 337.3h0M262.2 351.6h0M258.8 346.1h0M277.4 346.9h0M268.4 338.2h0M261.9 338.3h0M320.7 339.3h0M268.4 348h0M285.6 340.3h0M285.1 342.4h0M294.7 347.8h0M268.1 342.3h0M270.9 347.7h0M281 344.9h0M289.8 338h0M276.6 348h0M290.7 344.3h0M268.6 340.8h0M258.3 342h0M272.2 335.7h0M294.5 337h0M278.5 344.3h0M263.3 334.7h0M291.3 342.5h0M269.6 347.4h0M289.6 336.5h0M271.8 334.3h0M269.5 348.6h0M259 346.8h0M246.5 342.7h0M291.4 348.3h0M282.2 344.7h0M304 328.8h0M243.7 352.7h0M318.4 341.3h0M275.1 343.1h0M274.1 339.2h0M273.5 341.5h0M286.1 344.1h0M291.7 343.3h0M256.8 349.5h0M225.8 346.1h0M279.6 339.2h0M307.1 334.6h0M252.6 341.3h0M281.6 344.9h0M276 344.8h0M261 340.3h0M275.7 335.9h0M277.1 340h0M285.8 336.6h0M264.1 340.2h0M266.9 338.1h0M268.7 336.3h0M283.7 344.2h0M273.5 341.2h0M257.5 338.9h0M269.6 338.3h0M252.8 344.3h0M273.3 340.2h0M259.2 342.8h0M261.3 341h0M277.4 344.9h0M287.1 338.3h0M295.1 335.2h0M271.2 348h0M316.4 339.4h0M267.2 340.8h0M252 343h0M266 339.2h0M295 336.9h0M304.4 343.4h0M285.1 338.5h0M264 333.8h0M278.6 340.4h0M280.5 338.5h0M282 334.7h0M234.8 347h0M292 326.6h0M296.7 338.7h0M270.4 335.4h0M256.2 346.5h0M260.6 342.8h0M271.7 351h0M289.3 334.9h0M264.8 337.5h0M248.8 340.8h0M293.5 340.7h0M285.7 340.5h0M266.3 342.9h0M273.1 350.6h0M306 341.2h0M283.9 332.4h0M272.4 352.8h0M259.8 346.7h0M295.4 338.6h0M269.6 340.3h0M288 341h0M301 345.2h0M274.5 353.5h0M268.1 339.7h0M269.3 338.4h0M266.3 342.2h0M289.1 333.8h0M248.6 340.4h0M268.5 344.4h0M260.2 349.7h0M264.3 341.7h0M275.1 347.1h0M279.1 341.7h0M264.2 343.5h0M280.8 339.9h0M272.7 333.8h0M264.7 347.9h0M299 339.8h0M235.9 353h0M271.6 353.6h0M266.7 347h0M263.2 348.9h0M294 335.7h0M297.7 353h0M269.4 336.9h0M278.5 339.8h0M246.7 339.3h0M277.6 334.9h0M293.1 342.5h0M271 348.5h0M257.5 346.3h0M249.5 342.4h0M284.9 338.8h0M271.9 345h0M301.2 345.7h0M281.8 340.2h0M248.6 351.6h0M306.3 329.9h0M289.2 340.6h0M286.4 342.5h0M270.3 342.2h0M273.4 347.2h0M268.9 339.9h0M285.5 344h0M281.5 342.7h0M300.2 345h0M277.4 340.8h0M284.8 332.8h0M264.2 339.5h0M276.6 340h0M317.7 342h0M281.6 351.5h0M273.5 340.6h0M295.8 344h0M290.5 346.1h0M267 339.5h0M260.9 343.4h0M291.1 336h0M263.7 336.7h0M309.4 342.9h0M277.2 336.3h0M255.2 340.5h0M273.9 336.3h0M270.1 347.7h0M273.9 342.4h0M236.4 343.6h0M270.9 339.1h0M249.1 343.5h0M255.3 340.9h0M245.4 343.7h0M289.5 337h0M278.9 334.8h0M284.1 343.6h0M267.1 346.5h0M258.1 343.4h0M303.5 339.6h0M254.1 348.6h0" stroke="#8c8c8c" stroke-width="0.95" stroke-linecap="square" fill="none" opacity="0.9"/>
<path d="M210.2 296.7h0M199 270.8h0M185.4 309.6h0M210.9 289.5h0M206.8 318.3h0M195.6 300.6h0M189.7 296.7h0M225.7 288.3h0M208 291.1h0M203.4 298.7h0M202.6 309h0M203.7 311.5h0M207.4 313.8h0M197.3 300.4h0M205.6 287.3h0M218.8 307.9h0M214.9 274.6h0M199.1 305.9h0M205.5 291.2h0M217.8 299.5h0M202.4 295.8h0M197.7 309.1h0M209.4 299.2h0M202.8 294.3h0M219.5 300.3h0M217.3 282.5h0M203.9 306.8h0M213.2 305.9h0M207.6 303.6h0M203.3 324.6h0M210 289.6h0M209.8 298.8h0M206 308.9h0M207.9 293.6h0M212.9 285.1h0M211 289h0M207.6 300.9h0M208.6 283.8h0M208.2 290.6h0M200.2 305.4h0M218.3 286.8h0M205.5 316.5h0M212.2 304.9h0M195.6 317.3h0M209.3 279.8h0M203.9 301.6h0M202.1 280.9h0M219.8 306h0M213.5 294.1h0M193.4 291h0M218.4 295h0M191.2 290.1h0M202.3 297.3h0M197.8 291.1h0M196.1 306.1h0M201.7 308.3h0M214.3 273.9h0M186.5 297.5h0M207.4 310.8h0M212.5 277.7h0M198.8 300.9h0M217.1 298.8h0M203.8 287.4h0M208.5 311.2h0M184.3 305.6h0M204.3 278.4h0M195.4 284.5h0M210.8 334.5h0M197.9 286.3h0M203.9 303.2h0M208.3 278.6h0M204.6 289h0M189.7 293.7h0M201.2 273.6h0M212.2 313.7h0M215.5 304.2h0M201.7 295.7h0M190.2 301.8h0M208.2 295.5h0M190.3 290.5h0M210.6 319.8h0M213.2 297h0M203 304.7h0M201.2 310.5h0M210.3 269.7h0M189.7 279.7h0M190.5 300.9h0M213.1 301.7h0M208.5 300.7h0M208.2 293.3h0M195.7 310.1h0M202.7 296.7h0M209.4 313.1h0M200.3 299.6h0M195.9 296.1h0M207.1 299.1h0M204.2 302.7h0M188.4 280.3h0M207.5 292.8h0M198.1 292.1h0M218.4 300.9h0M201.7 290.5h0M192.8 299.5h0M192.4 305h0M209.1 307.5h0M213.2 300.6h0M190.9 291.4h0M217 282.8h0M189.7 306.3h0M201.7 314.7h0M209.6 301h0M204 309h0M205.4 295.6h0M208.6 295.6h0M227.4 297.5h0M198.7 278.4h0M214.8 297h0M206.9 296.2h0M213.7 282.6h0M208 291.9h0M210.3 308.7h0M199.2 282.9h0M203.4 313.4h0M211.4 298.9h0M224.7 275.2h0M205 285.3h0M193.7 300.9h0M205.5 302.2h0M200.6 304.6h0M213.6 294.2h0M216.5 290.8h0M224.9 289.3h0M207.5 284.9h0M198.7 313h0M190.2 315.5h0M214 307.2h0M195.6 306.2h0M185.4 279.8h0M212.5 300.9h0M227.7 298.8h0M195 291.1h0M201.1 319.2h0M189.8 293.9h0M217.9 294.7h0M206.7 282.8h0M206.8 310h0M208.2 302.8h0M213.1 300h0M206.4 309.7h0M212.6 308.2h0M201.9 306.3h0M200.6 272.9h0M216.9 305.1h0M198.9 287.9h0M203.1 298.4h0M193.7 306.7h0M177.5 323.9h0M188 313.1h0M218 281.3h0M194.5 294.6h0M208.8 294.2h0M203.9 299.9h0M195.1 294.8h0M226 298.5h0M193.3 302.1h0M210.5 314.4h0M199.9 295.1h0M207.3 296.4h0M202.6 311.7h0M209.1 299.8h0M194.4 317.6h0M185.1 316.5h0M210.1 301.6h0M189.8 316.3h0M210.1 312.5h0M230.1 284.8h0M206.9 294.9h0M198.4 296.4h0M206.4 305.8h0M209.8 282.6h0M206.2 306.9h0M217.3 315.9h0M210.2 285.1h0M230 299.7h0M202.6 307.2h0M202.3 314.9h0M199.5 286.7h0M211.9 284.7h0M193 311.7h0M207.5 297.9h0M199.7 296.6h0M209.5 285.7h0M217.2 286.2h0M216.7 298.6h0M193.4 272.5h0M211.1 289.2h0M212.7 320h0M217.5 315.5h0M218.6 295.8h0M217.4 297.6h0M210.8 282.4h0M203.1 302.8h0M209.4 285.2h0M207.6 311.6h0M200.1 306.7h0M217.4 290.2h0M213.3 276.7h0M194.1 299.3h0M195.5 299.5h0M217.5 275.8h0M193.3 313.7h0M204.1 299.5h0M206.6 277.3h0M177.6 325.4h0M207.3 287.5h0M214.9 276.3h0M207.8 322.5h0M196.9 299.1h0M193 304.7h0M198.4 293.5h0M212.8 308.6h0M209.3 279.5h0M185.7 306.3h0M208.6 300.5h0M214.3 304.1h0M199.1 294.3h0M203.9 297.6h0M222.4 313.4h0M208.1 296.1h0M203.8 284.3h0M191.3 286.2h0M201 271.5h0M206.7 271.5h0M209.9 317.1h0M186.7 318.1h0M222.3 271.4h0M209.6 286.7h0M191.4 289h0M212 307.2h0M195.7 285.3h0M192.7 308.5h0M208.5 286.5h0M206.6 272.2h0M193.2 305.4h0M187.8 293.6h0M199.7 307h0M190.7 304.5h0M206.3 329.8h0M191.2 292h0M202.2 298.7h0M192.2 304.4h0M216.7 323.6h0M199.5 288h0M210 302.2h0M192.2 309.6h0M203.9 311.6h0M196.9 312.1h0M206.1 283.5h0M211.3 281.9h0M211.4 310.9h0M189.8 294.1h0M213.4 296.9h0M210.9 292.8h0M204.4 296.8h0M213.3 288.6h0M193.6 297.9h0M197.8 302.2h0M206.8 281.1h0M209.4 303.7h0M212.3 296.7h0M195.4 311.3h0M182 312.1h0M209.1 299.2h0M202.4 305.3h0M196.8 298.5h0M205.6 273.3h0M205.7 299.9h0M207.2 306.7h0M206.5 309.6h0M189.8 308.3h0M229.6 300.9h0M190.7 301.5h0M207.2 312.9h0M224.1 287.4h0M205.4 304.7h0M219.3 292.1h0M206.6 293.8h0M203.9 295.8h0M211.9 277.1h0M203.9 298.7h0M218.6 255.7h0M201.9 288h0M189.5 313.5h0M213.2 299.1h0M193.5 338.2h0M194.1 300.1h0M192.3 313.1h0M214.4 300.5h0M213.5 291h0M187.2 302.2h0M219.7 300.3h0M208.9 275.4h0M228.3 291.7h0M197.4 292.3h0M214.4 302.9h0M204.3 298.2h0M211.8 300.6h0M206.2 297.7h0M188.7 309.6h0M205.2 280.3h0M200.7 296.8h0M218.5 283.9h0M193.1 295.6h0M213.1 286.7h0M194.2 296h0M211.2 278.8h0M190 312.1h0M190.6 306.4h0M184.5 309.8h0M221 296.3h0M195.8 302.9h0M191.5 300h0M213.4 305.3h0M208 297.3h0M216.9 292.1h0M217.9 303.3h0M209.8 278h0M199.7 299.2h0M222.8 283.7h0M206.8 289.6h0" stroke="#7a7a7a" stroke-width="1.05" stroke-linecap="square" fill="none" opacity="0.6"/>
<ellipse cx="206" cy="291.6" rx="11.5" ry="11" fill="#505050" opacity="0.4" filter="url(#b3)"/>
<path d="M198.6 291.8h0M201.4 297h0M189.1 296.2h0M194.2 280.1h0M209.5 289.8h0M207 286h0M199.6 287.4h0M205.9 286.7h0M203.6 286.6h0M207.7 284.9h0M193 276h0M206.1 292.4h0M212.3 287.3h0M199 282.8h0M211 288h0M212.4 291.3h0M204.5 280.6h0M201.9 296.6h0M202.3 295.9h0M195.8 297.9h0M223.8 298.5h0M208.2 284.4h0M202.9 287.9h0M207.4 279.6h0M200.7 296.6h0M207.1 296.3h0M211.6 284.9h0M197.7 294.6h0M206.4 292.3h0M201.1 297.9h0M209.3 298.7h0M204 296h0M205.8 286.1h0M205.7 281.8h0M205.1 292.9h0M210.6 285.5h0M197.8 287.4h0M193.1 287.9h0M222.7 292.7h0M201.4 287.7h0M217.4 284.8h0M205.5 291.3h0M201.6 287.5h0M195.6 286.7h0M214.4 300.3h0M204.4 296h0M209.1 292.5h0M205.3 299.1h0M209.8 290.4h0M204.7 297.4h0M202.4 287.5h0M204.5 288.8h0M214.2 293.9h0M205.6 288.6h0M215.1 294.5h0M219.4 297.3h0M204.8 288.5h0M204.4 292.9h0M211.2 294.7h0M216.1 282.6h0M206.4 283.3h0M199.7 288.2h0M202.1 286h0M196.6 298.6h0M204.2 297.6h0M199.2 277.8h0M202.4 297.1h0M202.7 294.2h0M199.4 300.2h0M208.9 298.1h0M204.4 299.5h0M206.7 288.9h0M202.2 292.1h0M200.5 284.6h0M207 296.1h0M204.4 296.9h0M216.2 284.2h0M207.8 286h0M202.1 292.9h0M191.2 295.4h0M211.5 295.1h0M210.3 302.7h0M203.9 298.4h0M215.3 294.8h0M194.9 290.9h0M204.3 282.1h0M205.8 296.3h0M204.6 290.7h0M215.5 288.1h0M200.2 292h0M213.3 295.4h0M206.7 288.8h0M214 297.1h0M195.2 293.8h0M191 300.8h0M210.1 288h0M198 290h0M195.1 295.2h0M203 281.2h0M206.1 298.9h0M198.2 289.7h0M217.7 292.9h0M202.7 292.9h0M211.1 285.8h0M205.6 282h0M196.2 282.5h0M211.5 293.7h0M210.8 299.1h0M206.5 293.2h0M208.8 294.6h0M199.5 290.1h0M205.2 292h0M201.5 291h0M208 292.9h0M209.9 296.7h0M209.7 297.6h0M211.5 300.2h0M210.2 288.1h0M220.9 298.6h0M214.1 296.2h0M206.5 284.9h0M209 289.7h0M203.7 278.9h0M216 284.8h0M199.3 294.6h0M209.8 287h0M206.1 293.3h0M207.2 295h0M211.1 289.6h0M196 304.8h0M203.8 285.8h0M210.9 295.3h0M202.3 305.9h0M191.3 299.5h0M206 293.7h0M208.2 290.4h0M208.2 284h0M203.7 302.9h0M189.9 299.2h0M192.1 286.7h0M211.7 289.3h0M202.5 282.8h0M205.4 290.7h0M202.2 282.4h0M207.2 294.3h0M213.4 294.9h0M215.8 299h0M188.3 301.8h0M205.5 285.5h0M208.9 297.6h0M196.4 284.4h0M210.5 288.5h0M215.4 293.1h0M202.7 283.8h0M210 281.4h0M198 283.9h0M217 302.1h0M204.8 289.5h0M210.6 299.3h0M201.1 305h0M204.9 298.6h0M191.3 291.5h0M201.8 303.7h0M204.8 284.1h0M218.5 287.7h0M206.2 284.3h0M210.5 293h0M204.4 289.4h0M202.6 287.5h0M197.3 299.1h0M211.8 283.4h0M198.8 294.2h0M220.5 290.6h0M204.2 290.3h0M207.8 290.7h0M213 297.7h0M209.7 301.3h0M204.7 288.5h0M225 280.2h0M196.3 277.6h0M208.5 285.4h0M212.9 279.2h0M205.3 289.4h0M199.4 298.5h0M203.7 294.5h0M202.9 292.7h0M203.4 292.2h0M205.6 287.7h0M209 290.7h0M200.1 285.5h0M209 299.8h0M197.9 289.3h0M209 298.1h0M210.7 284.7h0M206.4 297.2h0M207.7 290.4h0M198.7 292.8h0M205.8 292h0M215.7 298.9h0M201.2 293.2h0M204.2 292.4h0M216.5 297.3h0M206.5 287.8h0M205.2 294h0M203 298.4h0M206.3 284.7h0M219.1 274.3h0M204.5 291.1h0M212.5 298.5h0M215.4 301.2h0M208.2 292.5h0M212.6 291.6h0M198.2 289.1h0M210.4 295.5h0M199.2 299h0M208.2 282.7h0M209.2 297.9h0M209.6 289.9h0M201.1 298.5h0M207.6 291.8h0M203.7 285.6h0M194.3 289.7h0M213.2 296.4h0M201.9 301h0M204.8 285.7h0M212.4 300.1h0M203.7 284.4h0M205.8 277.2h0M206.5 301h0M207.9 287.4h0M210.7 288.8h0M214.2 289.6h0M219.1 289.7h0M207.4 286.1h0M198.1 293.9h0M208.4 285.9h0M209.7 289.3h0M202.7 291.4h0M208.7 296.2h0M214 294.1h0M201.6 287.7h0M208.5 284.6h0M205.1 289.5h0M205.6 292.9h0M212.8 301.7h0M211.8 297.9h0M199.4 298h0M214.4 283.6h0M222.2 288.4h0M191.1 302.4h0M206.6 287h0M202.6 298.2h0M207.8 289.5h0M213.5 286.2h0M200.8 288.4h0M201.5 295.9h0M204.7 285.5h0M203.3 279.9h0M207.2 292.4h0M210.1 290.4h0M208.7 286.2h0M206.4 292.7h0M198.5 295.3h0M207.1 292.1h0M203.2 303.8h0M206.2 287.2h0M200.8 295.4h0M204.9 287.1h0M201.6 297.4h0M206.7 298.1h0M206.1 284.7h0M211.7 293.7h0M202.1 289.9h0M200.1 296.8h0M203.6 294.7h0M207.8 290.2h0M208.5 290.3h0M198.7 289.3h0M198.8 296.3h0M210.3 288.3h0M210.1 293.3h0M212.3 286.2h0M206.4 285.8h0M201.9 300h0M193.5 286.3h0M209.3 296.5h0M201.2 279.6h0M195.4 294h0M213.2 297.2h0M201.6 299.9h0M205 295.5h0M205 301.4h0M202.9 278.9h0M204.2 292.9h0M207.9 287.5h0M204.7 285h0M204.7 292.3h0M207.7 301.7h0M193.6 294.9h0M208.9 284.9h0M206.6 291.8h0M199.9 296.1h0M218.2 295.8h0M211.1 298.2h0M205.4 297.6h0M201.1 292.9h0M210.6 299.6h0M204.4 290h0M209.1 291.3h0M207.1 296.6h0M201.4 297h0M208.6 290.2h0M198.3 288h0M205.9 297.4h0M193.8 296.1h0M207.4 285h0M211.6 294.2h0M208.9 286h0M199.2 297.2h0M215 294h0M205 289.1h0M195.4 297.7h0M205.6 299.2h0M201.7 298.1h0M201.7 295.3h0M214.8 287.6h0M211.9 291.8h0M200.3 293h0M210.2 287.5h0M204.5 288.4h0M201.4 290.5h0M211.4 288.8h0M214 289.5h0M201.9 298.2h0M215 287.9h0M209.9 284.9h0M203.7 289.6h0M210.6 284.3h0M203 287.7h0M206.8 284.5h0M197.8 308.6h0M207.5 282.8h0M211.4 284h0M194.4 301.7h0M214 286.8h0M199.4 294.6h0M218.9 295.4h0M210.3 284.8h0M195.1 294.1h0M212.5 292.6h0M206.2 300h0M201 298.3h0M211.4 288.1h0M207 292.4h0M209.8 286h0M204.8 292.3h0M206.4 291.9h0M207.8 290.7h0M203.1 297.9h0M202.2 289.9h0M200.7 285h0M209 291.5h0M205.4 294.5h0M205.1 295.8h0M217.4 293.9h0M204.5 301.6h0M210.6 281.9h0M214.5 293h0M211.5 285h0M200.9 288h0M209.6 285.1h0M201.8 297.4h0M202.2 292.5h0M200.6 281.7h0M205.7 291.1h0M197.3 297.5h0M211.3 297h0M203 285h0M205.6 292.8h0M205.1 288.3h0M200 287.5h0M205.7 288.9h0M216.5 290.2h0M209 289.1h0M205.1 286.1h0M203.2 283h0M193.3 299.7h0M199.7 294.3h0M205.4 288.4h0M210.7 288.5h0M208.9 289.6h0M212.2 297.4h0M206.6 298.2h0M209.3 301h0M205.4 282.7h0M207.5 293.2h0M203.9 290.6h0M204.5 284.4h0M216.8 287.2h0M199.6 282.5h0M201 291.6h0M215.3 295.3h0M201.7 284.5h0M199.3 291.3h0M211.5 289h0M216.1 303.2h0M207.2 279.1h0M212.9 291.2h0M210.3 297.6h0M200 292.2h0M207.3 287.4h0M210.5 291h0M203.7 302.8h0M207.2 301.4h0M205.2 297.9h0M201.5 292.7h0M212.9 279h0M209.5 290.2h0M212.9 292.8h0M205.7 284.3h0M224.3 287.5h0M204.2 287.5h0M204.3 293.1h0M197.9 298h0M204.6 295.3h0M193.2 288.7h0M204.3 289.5h0M202.1 293.6h0M208.7 286h0M194.1 296.1h0M204.2 298.1h0M211.5 291.2h0M197.4 289.7h0M201.7 299.1h0M195.7 297.2h0M196.7 288.4h0M197.5 287.7h0M203.5 294h0M202.5 295.8h0M216.9 292.7h0M199.1 290.7h0M205.5 289.7h0M213.3 298.6h0M218.5 294.9h0M189.8 291h0M210.3 287h0M202.5 297.1h0M207.1 285.2h0M202.6 273.7h0M206.1 284.6h0M205.8 284.8h0M200.5 288.8h0M223.3 284.8h0M198.9 288.6h0M212.7 296.5h0M210.4 289.9h0M206.9 287.3h0M205 287h0M197.2 285.9h0M218 294.1h0M201.5 291.1h0M203.4 298.9h0M206 288h0M210.3 293.7h0M202 287.2h0M207 282.2h0M200.5 297.7h0M211.5 298.3h0M203.4 288.3h0M204.5 289h0M214 290.5h0M214.5 287.6h0M208.5 301.3h0M201.6 287.9h0M202.5 282.3h0M204.3 288h0M219.7 289h0M193 297.3h0M212 291.6h0M207.9 296h0M202.7 292h0M207 301.5h0M214.8 292.8h0M197.9 297h0M205.8 298.6h0M206.5 292.8h0M210.2 287.5h0M202.1 305.2h0M200.8 297.3h0M210.3 296.6h0M214.5 283.9h0M212 279.7h0M206.4 293.8h0M212.4 298.1h0M200.4 290.2h0M205.2 287.7h0M201.1 287.9h0M213.2 299.8h0M210.7 301.7h0M206.7 285.4h0M202.1 293h0M212.4 298.9h0M200.6 297.4h0M202.9 295.3h0M211.8 300.5h0M202.9 293.2h0M208.7 289.3h0M206.7 295.3h0M196 288h0M220.3 294.4h0M202.7 281h0M200.2 294.8h0M210.3 294.4h0M209.8 288.2h0M215.9 285.2h0M209.2 290.2h0M195.6 297.1h0M204.4 296h0M213.9 292.8h0M202.1 290.5h0M205.7 300.3h0M211.4 301.1h0M210.8 287.3h0M211.8 297.5h0M205.4 294.5h0M204.2 284.4h0M205.6 296.3h0M203.9 278.6h0M201.2 298.2h0M207.5 298.4h0M201.5 289.3h0M200 287.2h0M209.2 292.6h0M203.1 293.5h0M198.1 289.5h0M196.9 283h0M197.8 285.3h0M215.8 299.9h0M213.8 288.4h0M209.9 285.1h0M202.8 293.2h0M196.3 293h0M209.9 279.6h0M191.1 290.2h0M205.4 292.6h0M199.2 295.1h0M206.9 287.5h0M216.2 293.3h0M210.6 302.7h0M203.1 290.5h0M195.5 290.4h0M208.8 306.6h0M209.5 293h0M198.4 286.8h0M194.8 283.7h0M206.8 293.6h0M200.5 290.5h0M201.2 295.5h0M210 288.5h0M203.3 284.5h0M203.2 304.7h0M206 296.9h0M209.7 300.5h0M204.1 286.4h0M212.5 297.2h0M202 298.3h0M206 291.5h0M217.4 294.9h0M208 289.9h0M207.3 298h0M208.9 287.3h0M208.8 291.1h0M208 290.6h0M192.7 282.2h0M203.7 278.7h0M196.9 303.8h0M210.3 289.1h0M208.1 278.5h0M207.6 297.6h0M207.3 284h0M212 288.6h0M202.6 293h0M204.2 303.9h0M205.2 304.5h0M208.9 284.4h0M206.1 292.1h0M214.9 299.4h0M221.8 287.8h0M203.4 305.6h0M200.6 293.9h0M216 285.8h0M204 287.4h0M209.3 294.2h0M205.9 295.7h0M201.3 289.6h0M209 303.8h0M205.9 292.1h0M214.2 292.2h0M214.1 293.2h0M213.2 292.9h0M200.4 286.7h0M208.7 303h0M217.6 289.9h0M221.5 285.2h0M200.9 297.3h0M196.7 297.2h0M208.4 295.5h0M198.7 294.1h0M211.9 291.5h0M212.4 291.9h0M208.2 289.9h0M197.7 290.9h0M209.2 287.3h0M194.1 282.6h0M214.2 290.5h0M201.4 299.2h0M205 282.8h0M203.4 286.5h0M205 286.3h0M206.5 294.5h0" stroke="#474747" stroke-width="1.05" stroke-linecap="square" fill="none" opacity="0.66"/>
<path d="M203.3 290.6h0M204.9 294.6h0M202.7 294.3h0M210.4 290.6h0M201.7 290.2h0M198.6 289.3h0M200.9 290.7h0M204.1 293.4h0M206 293h0M205.4 292.5h0M201.1 294h0M210.6 295.7h0M200.3 293h0M199.2 294.3h0M204.7 289.6h0M202.6 290.5h0M205.5 287.6h0M205.8 292.4h0M207.6 291.2h0M205.5 300.4h0M209.5 292.7h0M200.1 293.8h0M207.8 281.1h0M204.9 292.9h0M205.7 291.8h0M204.9 296.8h0M207 290.3h0M204.6 299.5h0M202.2 289.3h0M206.8 292h0M206.7 296.7h0M210 293h0M205.7 291.2h0M204.6 295.3h0M200.6 287.3h0M203.7 287.7h0M202.7 296.1h0M196.7 293.6h0M200.4 290.5h0M203.3 287.5h0M199.7 291.7h0M193.9 283.1h0M204 295.7h0M212.8 290.3h0M202.4 290.3h0M207.4 295h0M201.8 293.3h0M205.4 295.9h0M203.9 290.6h0M202.2 286.2h0M206.6 294.2h0M210 292.4h0M203.7 287.8h0M201 288.6h0M206.9 291.8h0M196.5 291h0M204.4 287.3h0M205.5 293.5h0M201.5 286.1h0M204.3 292.4h0M204.5 297.4h0M206.1 287.5h0M208.6 288.9h0M208.3 291.8h0M210.4 287.5h0M208.4 293.1h0M202 294.1h0M214.5 292.8h0M202.5 290.8h0M210.7 292.4h0M211.4 288.9h0M210.7 285.2h0M204.9 290.2h0M203.6 296.2h0M203.2 292.8h0M212.9 294.6h0M203.9 288.5h0M197.6 292.9h0M209.1 295.7h0M206.5 299.8h0M208.6 282.4h0M202.1 294.5h0M204 294.7h0M215.7 288.4h0M214.3 291.1h0M199.7 291.8h0M209.2 289.1h0M211.8 288h0M204.8 295h0M204.7 289.2h0M205.5 294h0M212.4 296.7h0M213 291.3h0M199 291.2h0M203.9 287.5h0M203.5 291.1h0M205.8 295h0M201.9 295.9h0M205.8 294.3h0M210.5 286.6h0M211.9 288.6h0M207.2 295.6h0M209.2 285.3h0M206.2 295.8h0M205.1 291.1h0M205.9 297.8h0M203.4 287.7h0M201.2 289.3h0M204.6 292.8h0M205.3 284.7h0M199.3 294.1h0M208.5 286.1h0M209.3 281.9h0M214.8 293.7h0M199 293.4h0M205.5 289.6h0M204.1 290.5h0M205.2 287.9h0M203.3 293.6h0M207.7 286.2h0M203.6 297.5h0M208.4 297.8h0M200.2 287.3h0M196.9 283.8h0M204.1 287.3h0M201.2 288.7h0M204.8 294.7h0M207.8 284.5h0M211.5 290.1h0M201.6 291.3h0M204 286h0M211.8 289.1h0M203.2 293.5h0M212.3 293.3h0M202 293.1h0M210 292.9h0M208.2 289.5h0M205.3 284.8h0M202.7 287h0M205.6 297.2h0M196.6 286.2h0M201.9 291.1h0M210.3 288.4h0M202.5 296.1h0M207.1 293.5h0M208.9 288.5h0M206.5 288.8h0M202.7 291.9h0M207.3 286.4h0M202.5 293.8h0M206.3 294h0M204.3 288.3h0M208.7 293.8h0M194.2 294.8h0M202.5 294h0M211.9 290.3h0M201.7 292.4h0M206 293.6h0M200 292.4h0M209.2 294.1h0M208.1 296.1h0M202.3 296.2h0M206.4 287.5h0M204.4 292.5h0M206.9 296.7h0M206.4 289.4h0M214.4 290.1h0M202.3 295h0M203.9 288.3h0M201.3 296h0M201.3 291.8h0M203.8 290.7h0M202.3 292h0M208 295.5h0M204.2 286.8h0M199.6 291.4h0M195.6 296.6h0M205.7 291.9h0M200 288.9h0M202.6 294h0M204 293.8h0M207.7 283.9h0M204.7 296.3h0M203.5 291.9h0M205.1 286.6h0M214.4 290.9h0M208.2 289.7h0M211.2 295.9h0M210.3 295.1h0M208.4 296.8h0M207.2 292h0M208.8 287.9h0M195.4 294.6h0M206.2 288.7h0M204.5 287.7h0M202.2 292.2h0M206.1 294.7h0M205.2 293.9h0M208.3 288.7h0M198.8 288.8h0M204.6 289.4h0M214.5 288.8h0M207.5 288.4h0M208.4 286.5h0M209.4 292.1h0M204 286.8h0M212.3 289.2h0M211.4 282h0M200.8 298.5h0M212.8 291.5h0M209.6 293.8h0M204.2 291.9h0M201 286.2h0M206.1 294.3h0M206.2 286.7h0M209 291.8h0M208.6 290.3h0M204.5 295.5h0M211.1 286.8h0M201.2 295.2h0M207 291.6h0M201.7 295.4h0M206.4 292.3h0M207.2 289.4h0M207.2 292h0M208.5 292.9h0M200.5 288.7h0M204.5 296h0M203 295.9h0M209.9 294.9h0M214.7 291.4h0M206.9 296.2h0M207.2 295.3h0M205.1 297h0M207 284h0M210 290.7h0M202.1 290.3h0M204.5 295.9h0M206.9 291.2h0M205.5 288h0M203 289.6h0M204.7 286.9h0M204 295.4h0M207.4 291.5h0M207 290.5h0M200.8 294.9h0M214.6 293.4h0M208.4 301h0M200.7 293.5h0M204.2 290.4h0M199 291.1h0M207.2 285.2h0M204.7 289.6h0M201.6 293.9h0M212.2 293.1h0M209.7 294.4h0M205.3 293.7h0M210.9 289.8h0M205 286.1h0M198.1 288.3h0M209.2 292.9h0M206.6 296.6h0M198.5 296.8h0M205.9 294.5h0M211.1 288.3h0M202.1 293h0M205.4 289.2h0M205.1 288.6h0M206.1 290h0M212.4 287.4h0M207.9 291.8h0M212 287.7h0M203.7 298.2h0M203 290h0M204 287.7h0M210.5 297.3h0M205 288.5h0M200.2 294h0M203.5 293.6h0M195.9 289.8h0M208.1 293.1h0M194.1 292.6h0M206.1 291.4h0M204.2 289.7h0M206.2 293.4h0M192.9 291.4h0M209.3 290.6h0M210.5 287.8h0M213.3 295.2h0M204 302.1h0M211.4 297.6h0M200.8 291h0M207.5 295.5h0M205.9 286.4h0M210.5 290.8h0M207.4 290.2h0M205.1 286.1h0M208.3 289h0M198.5 293h0M205.5 295.2h0" stroke="#303030" stroke-width="1.05" stroke-linecap="square" fill="none" opacity="0.7"/>
<path d="M192.7 330.5h0M183.1 348.3h0M184.6 349.3h0M197.9 324.1h0M194.6 341.9h0M200.7 331.1h0M186.1 352.7h0M198.4 342.8h0M189.7 345.3h0M187.9 345.5h0M181.5 354.6h0M176.9 351.1h0M194.8 344.3h0M184.1 351.6h0M191.7 344.4h0M185.9 348.9h0M194 333.9h0M187.9 346.9h0M197.7 341h0M182.3 350.2h0M186.5 336.7h0M191.1 347.4h0M191.5 331h0M188.3 328.3h0M196.4 324.4h0M184.1 356.5h0M195.2 334.7h0M190 351.1h0M181.3 350.7h0M185.6 339.3h0M198.8 342.7h0M197.2 334.3h0M196.7 334.3h0M192.8 339.3h0M195.3 333.8h0M179.2 351.3h0M195.5 338.4h0M185.5 345.2h0M193.8 334.9h0M193.5 350.5h0M179.8 354.5h0M185 364.6h0M189 338.2h0M199.7 327.7h0M185.3 340h0M193.8 339.3h0M196.1 328.7h0M194.4 338.4h0M193.8 339.7h0M190.8 326.5h0M183.1 338.9h0M193.6 325.9h0M189.8 338.2h0M198.9 340.1h0M182.3 355h0M197.7 341h0M180.3 358.2h0M181.9 348.6h0M198.8 339h0M189.5 346.3h0M200.9 340.1h0M197.1 335.5h0M183.3 347.6h0M189.6 344.6h0M192.4 348h0M183.5 353h0M185 345.9h0M196.1 338.7h0M190.5 332.3h0M188.5 341.6h0M191.1 343h0M189.4 346.7h0M185.8 346.7h0M194.9 332.1h0M188.2 347.8h0M196.1 346.3h0M202.1 341.3h0M196 345.7h0M190.9 339.1h0M185.9 347.6h0M189.7 351.1h0M185.4 345.5h0M202.5 330h0M181.2 354.4h0M190.5 344.2h0M191.7 345.9h0M181.7 349.9h0M196.3 336.8h0M186.3 342.1h0M194.2 334.4h0M193.3 342.2h0M191.1 347.2h0M180.6 350.6h0M183.9 344.5h0M187.4 355.7h0M191.8 327.3h0M193.7 330.5h0M189.3 339.4h0M187.5 348.9h0M187.2 349.6h0M194 343.6h0M196.7 339.9h0M187.8 349.8h0M186.4 348.6h0M199.4 329h0M190.6 352.6h0M185 350.1h0M189.5 343.4h0M182.4 341.6h0M183.8 357.2h0M182.3 347.5h0M189.2 350.1h0M197.6 339.1h0M191.7 333.5h0M198.8 318.6h0M183.1 346.9h0M191.8 330.9h0M192.8 339.2h0M185.7 352.9h0M188.5 350.1h0M190.3 336.9h0M188.8 345.3h0M188.2 335.6h0M193.7 331.6h0M192.7 336.1h0M188.7 345.5h0M191.1 340.8h0M191.8 351.2h0M192.7 330.4h0M178.3 349.1h0M190 332.5h0M191.6 352h0M182.7 356.8h0M190.6 329.6h0M196.1 335.7h0M183.5 352h0M193.2 329.6h0M185.7 350.1h0M194.8 339.3h0M181.7 349.2h0M190.5 337.5h0M180.9 349.7h0M187.7 345h0M183.6 344.4h0M190 334h0M189.3 346h0M189.1 347h0M191.8 335.6h0M182 348.3h0M184.8 351.8h0M186.2 343.4h0M187.2 346h0M192.2 337.6h0M192.2 328.2h0M188.1 331.3h0M196.9 335.9h0M192 341.1h0M192.4 335.2h0M197.3 334.6h0M183.9 353.3h0M187.3 344.9h0M186.4 345.4h0M194.1 339h0M199.4 328.4h0M187.2 354.5h0M194.2 336.4h0M190 335.2h0M180 348.4h0M194.3 336.4h0M193.3 338.6h0" stroke="#6e6e6e" stroke-width="1.15" stroke-linecap="square" fill="none" opacity="0.62"/>
<path d="M171.1 379.7h0M176.3 365.3h0M175.4 364.6h0M179.7 364.6h0M173.2 371.6h0M180.8 364.4h0M184.2 356.8h0M184.3 363.1h0M185.9 360.3h0M176.7 366.1h0M181.1 380.2h0M177.2 355.9h0M179.8 377.8h0M181.9 360.9h0M184.1 364.6h0M178 370.8h0M179 339.4h0M178.1 371.8h0M179.4 370.1h0M177.4 375.3h0M176.5 380.1h0M177.2 372.6h0M175.2 366.9h0M180 365.8h0M185.2 365.5h0M182.8 368.5h0M184.6 355.1h0M175.1 374.1h0M173.9 367.7h0M180.5 366.5h0M179.4 370.1h0M176.5 368.3h0M176.5 358.8h0M171.1 361.9h0M170.3 363.2h0M180.8 352.5h0M178.1 367.2h0M178 354h0M177.1 368.3h0M168.6 366.4h0M181.2 357.5h0M176.7 378.7h0M183.8 360h0M165.8 375h0M188 346.1h0M178.4 356.4h0M179.1 364.8h0M184.4 358.4h0M189.7 346.9h0M176.8 370.7h0M182.8 360.8h0M169.1 365.1h0M184.7 342.6h0M175.1 369.7h0M167.4 360.4h0M172.9 348.6h0M178.4 376.5h0M184.6 357.7h0M183.2 345.3h0M170.6 368.9h0M177.9 352.8h0M170 360.3h0M191.5 343.8h0M171.7 375.4h0M170.3 356.1h0M176.8 376.2h0M178.2 362.8h0M179.7 368.1h0M172.7 352.8h0M176.6 367.5h0M173.6 355.5h0M174.3 367.2h0M175.3 370.2h0M181.4 354.4h0M178.7 350.4h0M177.5 372.8h0M176.3 344.3h0M181 361.2h0M177.4 369h0M178.5 374.2h0M179.4 339.9h0M176.4 360.4h0M175.7 368h0M175.1 377.8h0M175.3 363.5h0M175.3 352.6h0M175.3 372h0M178.5 362.1h0M174.6 340.6h0M177.6 361.3h0M185.8 369.2h0M178.7 374.8h0M175.9 350.1h0M174.2 379.8h0M183.7 358.3h0M171 373.2h0M184.9 352.8h0M186.8 356.7h0M182 362.3h0M177.6 357.2h0M180.5 371.2h0M182.4 361.5h0M186.4 363h0M170.6 379.5h0M178.7 364.7h0M181.6 368.4h0M168.5 369.7h0M173.5 364.2h0M177 366.8h0M165.9 369.9h0M189.7 361.1h0M181.4 371.4h0M180.4 358.8h0M180.7 367.4h0M183.7 374h0M179.4 331.9h0M184.5 370.3h0M179.9 357.5h0M187.8 380.2h0M179.2 360.1h0M178.8 379.1h0M179.2 374.6h0M178.9 368h0M172.1 364.5h0M178.6 363.2h0M176.6 367.2h0M175.8 361.5h0M175.9 350.4h0M176.3 359.1h0M176.9 336.8h0M184.3 376.2h0M175.6 369.8h0M175.5 345.7h0M178.9 370.5h0M175 363.5h0M182.9 366.5h0M178.2 370.4h0M170.4 348.6h0M171.9 365.8h0M178.1 343.1h0M182.7 362.6h0M172.4 349.1h0M181.1 380h0M179.5 368.2h0M180.5 371.6h0M171.1 371.2h0M183.5 360.3h0M174.6 358.1h0M174.6 369.3h0M181.8 364.8h0M179.5 344.6h0M177.7 352.9h0M175.1 367.4h0M174.9 357.6h0M173.2 360.5h0M175.3 374.7h0M167.6 372.6h0M182 358.7h0M174.7 365.7h0M180.9 362.6h0M177.4 364.1h0M172.7 366.2h0M180.8 364.9h0M172.8 363.3h0M177.2 367.4h0M175 372.7h0M182.1 373.7h0M177.4 377.3h0M178.3 362.2h0M171.4 363.3h0M185.4 354.5h0M183.8 350.8h0M180.2 351.5h0M179.8 362.6h0M182.7 358.9h0M170.7 357.7h0M179.4 375.5h0M179.4 364.5h0M181.7 362.4h0M175.7 366.1h0M184.1 359.4h0M181.5 357.5h0M174.5 365.4h0M173.2 354h0M173.5 356.8h0M180.9 365.2h0M175.4 337.7h0M181.2 357.6h0M183.7 360.5h0M173 356.3h0M173.1 347.9h0M182.3 358.8h0M182.3 358.5h0M177.9 358h0M176.6 356.6h0M185.3 364.4h0M166.4 380.8h0M182.4 376.8h0M177.9 362.3h0M175.7 365h0M180.4 364.3h0M175.7 353.2h0M173.3 356.4h0M177.1 370.2h0M177.3 366.5h0M178.2 376.4h0M170.3 374.8h0M179.4 370h0M171.4 360.6h0M176 370.6h0M180.4 371.8h0M170.2 376.5h0M177.1 374h0M179.1 356.6h0M189.6 372.7h0M182.4 359.6h0M175.4 375.7h0M185.4 353.4h0M169.1 375.3h0M181.4 361.7h0M177.6 358h0M186.9 363.5h0M170.3 372.7h0M177.2 367.7h0M176.4 363.4h0M168.4 368.5h0M175.5 359.5h0M177.7 377.7h0M168.1 361.2h0M179.2 375.1h0M173.3 366.8h0M178.6 374.1h0M175.5 361.7h0M174 375.7h0M183.9 360.1h0M177.2 366.3h0M174 362.3h0M181.1 372.8h0M175.9 356.8h0M179.7 348.6h0M179.4 365.5h0M172.1 360.7h0M175.4 360.8h0M172 377.8h0M172.4 371.4h0M177 379.3h0M177.8 364.1h0M181.2 344.4h0M189.8 363.5h0M178.3 352.1h0M175.1 380.8h0M173.9 368.2h0M181.6 374.6h0M178.8 345.6h0M179.2 370.3h0M177.2 359.4h0M188.7 348.8h0M176.6 357.4h0M171.7 355.9h0M172.5 376.5h0M171.8 348.6h0M181.6 348.2h0M169.5 356.3h0M173.8 353.2h0M176.7 368.7h0M175.4 360.8h0M181.7 363h0M182.4 358.5h0M178.6 377.7h0M177.1 360.4h0M176.7 368.8h0M172.3 363.7h0M173.2 378.5h0M169 369.7h0M177.7 356.2h0M179.1 361.7h0M177.9 366.6h0M184.4 360.7h0M190 337.3h0M185 377.9h0M185.2 367.2h0M180.9 353.8h0M186.1 353h0M174.3 363.6h0M178.7 367.8h0M173.1 359.8h0M178.7 376.7h0M181.1 368.9h0M177.6 358.4h0M175.8 362.8h0M181.3 359.3h0M189.3 355.2h0M182.3 362.6h0M178 360.1h0M185.8 362.1h0M180.5 365.7h0M180.8 370.7h0M187 357.7h0M171.7 381.1h0M184 365.7h0M176.4 366.6h0M185.4 357.1h0M185.1 364.5h0M177 359.8h0M167.7 366.1h0M172.7 357.5h0M173.5 366h0M181.5 365h0M178.4 368.5h0M184.9 371.2h0M185.6 364.6h0M180.7 357.7h0M182.1 355.7h0M181.2 357.9h0M174.6 376.4h0M177.6 372.4h0M179.7 344.8h0M185.3 363.3h0M173.6 373.4h0M173.8 355.7h0M184.5 357.8h0M183.9 361.8h0M177 364.7h0M174.2 374.8h0M183.2 365.6h0M180.2 370.1h0M188.4 349h0M181.6 374.2h0M176.6 364.1h0M174.7 376.6h0M171.8 369.6h0M183.3 370.9h0M176.5 359.1h0M169.5 352.2h0M184.6 355.2h0M170.7 360.5h0M170.4 367.9h0M172.6 373.3h0M179.6 349.5h0M175.4 357h0M172.3 376.3h0M172.8 367.2h0M174.5 369.8h0M173.6 347.1h0M178.4 379.2h0M172 360h0M177 354.2h0M182.6 365.3h0M171.8 361h0M185.4 357.8h0M176.8 355.3h0M179.7 358.6h0M183.5 356.2h0M170.5 367.8h0M179.1 366.9h0M176 359.2h0M174.5 361.8h0M175.1 369.5h0M177.3 369.9h0M186.2 362.5h0M176.2 367.8h0M188.6 361.9h0M184.4 377.5h0M166.6 352.1h0M172.9 367.6h0M184.3 365.6h0M171.5 380.5h0M179.2 338.9h0M174.9 358.8h0M176.8 371.9h0M180.6 370h0M183.7 365.3h0M175.5 363.3h0M178.1 356.9h0M179 357.4h0M182.1 357.9h0M180 367.8h0M178.1 369.7h0M173.8 371.2h0M178.8 359.7h0M184.8 376.7h0M176 369.8h0M179.1 380.9h0M183.2 363.1h0M178.6 352h0M178.1 373.2h0M175.3 370.7h0M179.4 359.5h0M170.7 374.8h0M189.4 371.5h0M174.5 352.8h0M178.4 371h0M188.8 340.3h0M186.7 367.1h0M178.2 368.2h0M176.8 361h0M185.6 347h0M176.8 369.9h0M170.5 361.4h0M184.8 369h0M180.5 371.9h0M178.7 368h0M174.6 361.5h0M188.7 352.7h0M179.2 351h0M176.7 355.8h0M172 365.8h0M172.9 369h0M190.4 339h0M180.4 342.4h0M177 367.9h0M177.4 376.8h0M181.4 346.4h0M186.7 355.4h0M177.2 367.4h0M173.8 364.5h0M187.7 347.7h0M170.9 358.4h0M179.2 350.8h0M165.9 372.1h0M181.9 350.7h0M181 363.9h0M180.9 350.4h0M176.4 369h0M171.3 352.1h0M181.4 363.8h0M173.6 359.2h0M176.3 368.5h0M187.7 342.3h0M172.6 363.3h0M182.2 369h0M167.5 345.2h0M183.7 371.2h0M189.2 374.1h0M178.1 380.3h0M176.8 358.2h0M173 366h0M178.9 374.2h0M184.1 371.6h0M184.4 362.4h0M172.5 371.1h0M181 378.7h0M178.1 359.1h0M175.9 367.6h0M178.2 362.2h0M179.8 361.3h0M180.6 358.1h0M171.3 359.9h0M188.4 356.9h0M180.6 378.7h0M175.2 366.4h0M166.5 368.5h0M185.2 367.1h0M169.5 356.7h0M174.5 364.8h0M180.1 360h0M177.9 355.4h0M180.6 366.6h0M180.6 359.1h0M181 361.3h0M179.8 362.6h0M176.6 352.2h0M171.3 348.6h0M171.6 354.5h0M178.9 351.8h0M166.6 350h0M185.8 352.8h0M178.6 357.4h0M184 349.4h0M179.3 366.6h0M180.2 368.9h0M181.5 345.6h0M178 354h0M181.1 362h0M177.3 375.7h0M184.4 349.1h0M173.6 376.5h0M174 376.3h0M175.7 362.4h0M185.4 348.2h0M179.2 359.3h0M182.5 350.2h0M183.4 360h0M177.3 376.3h0M175.3 373.9h0M180.4 354.7h0M178.7 349.6h0M183.6 366.6h0M184.5 353h0M184 352.1h0M179.6 364.1h0M174.9 366.9h0M179.6 354.9h0M176.6 349.8h0M184.5 366.5h0M175.4 371.1h0M175.8 351.2h0M177.5 381h0M179.4 365.9h0M188.8 348.9h0M194.4 354.5h0M179.8 349.8h0M172.8 360.7h0M191.2 355.8h0M174.9 366.5h0M173.7 360.6h0M185.3 341.6h0M177.2 360.7h0M175.9 362.4h0M170.3 358.2h0M177.2 352.8h0M183.3 355.4h0M184.2 370.2h0M173.4 369.8h0M174.6 369.7h0M180.9 376.8h0M173.4 362h0M180 351.1h0M179.1 371.6h0M172.4 357.3h0M174.8 349.8h0M171.1 377.8h0M175.6 359.4h0M181.4 375.5h0M188 343h0M184.4 346h0M175.8 359.2h0M175.7 376.3h0M177.4 363.3h0M180 369h0M183.2 346h0M180.1 367.7h0M181.1 363.8h0M182.1 350.5h0M185.4 351.9h0M183.4 375.6h0M178.3 360.9h0M182.3 361.3h0M172.1 366.2h0M173.1 358.4h0M185.5 373.8h0M176.2 363h0M175.1 363.5h0M170.3 370.2h0M179.2 357.5h0M176.8 358.7h0M176.2 358.4h0M183.4 372h0M179.6 368.2h0M176.4 337.7h0M184.3 372.6h0M178.8 367.1h0M179.1 364.4h0M180.3 340.2h0M180.8 364.9h0M182.4 367.9h0M175.9 370.2h0M179.8 359.4h0M177 359.3h0M177.4 359.1h0M176 375.8h0M173.6 328.4h0M176.2 362h0M176.7 349.1h0M174.9 358h0M179.4 360.5h0M173 359.3h0M186.7 355.7h0M177 374.7h0M175.2 357.4h0M190.1 379.1h0M175.5 365.3h0M178.5 365.6h0M180.9 361.1h0M169.1 352.3h0M181 349.6h0M174.4 379.7h0M180.3 357.2h0M177.3 375.2h0M171.9 349.6h0M175.7 358.9h0M178.6 357.8h0M178.6 365h0M173.6 356.6h0M171.9 366.2h0M178.5 371.1h0M174.8 357.8h0M167.6 362.6h0M170 366.6h0M182.7 369.4h0M180.8 366.8h0M178.6 374.2h0M175.7 372.6h0M181.7 369.1h0M181.4 350.8h0M184.7 355.4h0M176.4 354.5h0M182.3 354.1h0M179.5 370.3h0M179.2 360.5h0M179.1 378.3h0M177.6 352.6h0M176.7 354.3h0M177.3 362.2h0M165.1 377.9h0M175 358.9h0M171.8 341.9h0M173 365.7h0M184.9 345.4h0M177 380.2h0M175.5 373.5h0M181.1 354.4h0M183.8 358.2h0M180.5 360h0M176.9 365.5h0M187 347.1h0M172.8 364.3h0M183.1 362.7h0M176.5 369.4h0M187 355.5h0M171 360h0M183.8 350.6h0M182.1 374.7h0M183.2 355.6h0M171.1 370.1h0M178.4 371.4h0M176.2 331.9h0M182 375.3h0M176.9 363.8h0M179.2 372.2h0M178.1 358.4h0M172 374.2h0M183.7 328.1h0M180.7 358.2h0M172.9 357.7h0M172.8 358.4h0M174.8 369h0M176.1 344.1h0M177.4 349.1h0M182 362.3h0M171.6 353.6h0M178.1 363.5h0M169.7 361.4h0M178.1 374.6h0M183.6 363.4h0M172.6 359.2h0M182.6 354.7h0M185.6 354.7h0M171.6 372h0M177.2 367.3h0M176.7 364.1h0M181.5 363.1h0M179.2 373.1h0M175.4 365.5h0M180 358.2h0M174.8 361.4h0M177.4 359.5h0M168.9 363.5h0M181.2 365.2h0M185 374.2h0M177.5 356.6h0M181.1 360.4h0M170.4 364.2h0M177.1 361.4h0M180.8 366.4h0M188.9 357.5h0M177.3 367.2h0M176.9 358.3h0M188.6 349.9h0M182.5 345.7h0M182.7 344h0M171 375.2h0M185.3 366.4h0M181 352.5h0M178.5 349.8h0M177.9 363h0M177.6 372.4h0M178.4 340.3h0M174.5 350h0M177.1 359.1h0M176 378.3h0M179.9 352.7h0M178 354.6h0M176.2 369.9h0M171.8 370.6h0M184.4 381.2h0M185.8 366h0M177.6 366.4h0M177.9 353.9h0M183.2 349.7h0M170.9 368.9h0M177.7 354.9h0M178.4 379.2h0M177.1 362.4h0M179.5 374.2h0M182.1 371.8h0M174.3 369.1h0M180.7 346.2h0M183.2 370.8h0M184.8 364.2h0" stroke="#5e5e5e" stroke-width="1.0" stroke-linecap="square" fill="none" opacity="0.7"/>
<g clip-path="url(#cA)"><g transform="rotate(8 177.5 366)"><ellipse cx="177.9" cy="366" rx="6.6" ry="18.5" fill="#565656" filter="url(#b2)"/></g></g>
<path d="M180.2 365.2h0M177.2 373.5h0M177.2 370.9h0M176.2 376.2h0M181.9 351.3h0M182.5 370.1h0M177 359.8h0M184 367.2h0M178.7 370.9h0M173.8 380.6h0M185.4 359.6h0M183.4 351.7h0M176.7 365.9h0M177.3 370.5h0M178.6 368.9h0M177 368.1h0M176.5 376.4h0M178.3 364.2h0M178.8 354.1h0M183.8 370h0M178.8 361.5h0M182.2 363.2h0M177 360.6h0M182.3 368.9h0M178.1 359.8h0M181.5 368.6h0M175.7 373.2h0M181.8 357.2h0M180.1 375.5h0M178.7 353.8h0M181.7 363h0M177.5 362.9h0M175.9 372.7h0M173.7 369.7h0M180.2 375.2h0M179.7 368.2h0M177.3 364.4h0M173 379.7h0M178.7 356.7h0M178.6 379h0M179.1 362.9h0M173.5 370.6h0M177.9 359.6h0M181.3 354.5h0M183.1 344.7h0M177.6 352.8h0M176.1 372.4h0M172.1 376.8h0M176.3 361h0M181.8 359.6h0M182.6 364.4h0M178.7 357.1h0M181.5 365.5h0M177.5 357.1h0M176 364.4h0M174.6 372.1h0M178.5 360.1h0M177.5 378.1h0M170.9 367.7h0M181 367.2h0M182.3 352.5h0M174.3 373.9h0M177.5 366h0M179.3 369h0M179.8 361.4h0M175.3 376.7h0M178.1 352.8h0M175.7 373.1h0M183.2 367.6h0M175.2 370.5h0M177.3 375.9h0M178.5 372.3h0M178.9 369.4h0M175.2 363.7h0M181.2 377.7h0M180.4 369.4h0M177.1 368.5h0M175.5 374.8h0M177.8 358.8h0M171 378.3h0M176.6 357.8h0M176.9 381.2h0M180.3 362.9h0M180.6 358.6h0M177 365.7h0M177 372.3h0M180.8 363.5h0M179.7 358.3h0M176.4 362.3h0M181.8 360h0M174.3 356.1h0M174.4 363.4h0M178.4 355.3h0M175.9 361.6h0M178.3 371h0M182.3 363.9h0M179.7 366.5h0M175.3 359.6h0M184.8 365.1h0M182 373.4h0M183.2 364.6h0M181.1 363.3h0M175.9 355h0M181.2 351.9h0M180.1 358.2h0M180.7 353.9h0M180.8 363.9h0M174.9 352.5h0M180.1 351.5h0M178.3 369.9h0M174.2 377.3h0M182 368.9h0M178.7 369.8h0M175.5 376.7h0M179.3 343.7h0M177.4 369.3h0M181.8 356.4h0M183.2 359.1h0M179 372.1h0M177.1 375.4h0M179.9 362.1h0M185.9 366.6h0M171.2 377.1h0M183.4 361.2h0M173.5 374.8h0M179.3 357.3h0M176.4 365.9h0M179 379.4h0M174.2 378.5h0M172.4 371h0M177 369.2h0M177.4 359.2h0M177.4 375.4h0M171.1 365h0M178 356.1h0M173.2 369.4h0M178.8 371.3h0M173.7 351.6h0M176.6 361.5h0M183.8 363h0M177.1 374.2h0M182.6 369.5h0M178.9 349.9h0M176 362.5h0M181.6 368.8h0M181.5 366.9h0M178.8 360.6h0M173.5 369.4h0M178.3 370.6h0M176.8 361.7h0M178.3 370.9h0M185.1 358.9h0M179.9 373.6h0M177 366.6h0M175.9 378.7h0M185.3 369.4h0M176 373.6h0M179.7 364.2h0M179.2 373.4h0M175.7 372.7h0M172.6 353.5h0M176.8 366.8h0M171.7 377.7h0M176.6 366.7h0M176.9 372h0M175.3 371.7h0M177.2 352.4h0M179.3 367.2h0M183 349.2h0M179.1 360h0M177.8 362.1h0M177.6 359.6h0M183.2 351.1h0M172.4 367.8h0M185 359.8h0M176.6 355.1h0M173.3 375.9h0M178.9 373.6h0M178.7 367.7h0M177.3 356.9h0M175.3 376.3h0M175.7 365.6h0M183.2 365.6h0M180.6 361h0M185.2 355.7h0M179.9 363.7h0M178.1 368.8h0M180.9 373.7h0M180.7 369.2h0M173 376.7h0M182.1 370.4h0M180.6 363.9h0M172.3 373.4h0M180.1 365.7h0M175.9 366.2h0M175.3 361.9h0M183.2 363.7h0M183.7 365.5h0M180.3 357.7h0M177.5 361.5h0M179.8 365.1h0M174.5 365.4h0M175.9 356.7h0M171.9 369.6h0M179.8 340.2h0M173.8 363.8h0M179 359h0M182.7 370.9h0M178 351h0M179.3 359.8h0M182.3 356.9h0M182.2 362.1h0M178.8 363.3h0M178.4 375.8h0M177.4 357.5h0M182.6 374.6h0M182.6 374.7h0M176.3 379.7h0M176.4 361.5h0M175.8 371.3h0M175.5 363.6h0M175.6 363.1h0M180 375.7h0M175.2 369.2h0M179.2 346.1h0M172.7 375.8h0M177.2 367.8h0M181.7 366.3h0M176.7 360h0M174.3 369.9h0M175.8 369.8h0M173.8 361.1h0M183.8 369.6h0M176.1 375.8h0M176.9 379h0M173.4 371.7h0M173.8 371h0M183.6 379.9h0M174.7 368.8h0M180.2 359.5h0M180 356.4h0M179.8 373.9h0M176.6 371.4h0M185.4 365.2h0M171.7 367.6h0M177.5 358.5h0M179.4 374.6h0M177.7 380h0M176.5 361.6h0M182.5 342.2h0M169.1 367.3h0M177.2 366h0M174.6 367.1h0M181.9 360.5h0M179.8 364.4h0M177.3 366.5h0M181.9 370.7h0M179.8 367.1h0M170.1 372.8h0M177.7 366.4h0M178.2 351.9h0M185 350.2h0M181 355.5h0M177.9 361h0M176.9 358.5h0M175.4 372.1h0M181.7 374.3h0M178 364.3h0M177.1 365.2h0M176.2 363.7h0M180.8 363.9h0M175.5 364.1h0M178.2 364.9h0M176.2 371.6h0M179 356.7h0M180.5 359.6h0M179.2 373h0M179 368.4h0M173.9 363.2h0M177.5 371.1h0M174.6 363.7h0M172.9 366.4h0M178 366.6h0M182.1 372.6h0M178 360.4h0M175.5 372.2h0M181.3 361.5h0M178 361.7h0M179.8 367.5h0M176.7 357.5h0M183.6 353.9h0M176 337.9h0M184.8 361.7h0M179.8 370.8h0M179.1 375.8h0M176.4 365.2h0M180.2 370.8h0M176.4 358.6h0M173.1 367.2h0M178.1 351.7h0M175.7 368.1h0M178.7 363.7h0M177.6 371.3h0M175.1 357.9h0M180 372.4h0M174.4 358.6h0M181.4 372.7h0M176.1 374.4h0M180.4 378.4h0M175.1 353.6h0M176.3 364.9h0M176.5 367.5h0M181.1 375.8h0M180.9 365.9h0M182.4 370.2h0M178.6 365.5h0M176.7 373.3h0M185.2 364.9h0M173 373.9h0M179.8 357.4h0M180.8 366.1h0M178 343.1h0M174.3 368.4h0M173.4 373.5h0M184.3 369.3h0M178.7 365h0M180.5 366.2h0M179.4 378.4h0M181.7 357.5h0M180.3 363.5h0M177.6 374.1h0M175.5 367h0M183.5 358.9h0M176.4 371.8h0M175.9 374.3h0M176.5 352.1h0M179.2 364.5h0M177.7 374h0M181.6 363h0M179 348.5h0M174.5 367.2h0M180.4 352.8h0M180.4 365.5h0M181.7 363h0M182.2 356.4h0M173 357.7h0M179.5 369.4h0M171.8 366h0M177.9 380.4h0M179.7 370.3h0M172.4 368.1h0M172.1 362.1h0M177.9 357h0M174.8 363.9h0M180.5 360.2h0M177.9 371.8h0M177.8 359.1h0M170.6 374h0M180.2 364.2h0M179 364.6h0M180.6 365.8h0M178.7 365h0M177.8 345.9h0M181.1 355h0M178.3 371.2h0M184.7 359.9h0M177.2 373.8h0M176.5 360.2h0M180.1 374.3h0M174 370.8h0M183 355.1h0M178.1 363.9h0M182 350.8h0M180.1 365.8h0M179.6 347.1h0M172 359.9h0M179.4 369.5h0M182.3 351.2h0M176.8 377.3h0M172.2 370.5h0M174.9 369.9h0M180.1 351.5h0M173 376.1h0M176 376.2h0M177.8 373.4h0M176.3 367.3h0M175.6 373.2h0M174.7 374.8h0M184.3 355.7h0M176.7 370.1h0M182 376.2h0M180.2 350.6h0M181.2 360.8h0M178 369.1h0M172.1 374.1h0M180 370.9h0M179.3 368.9h0M174.1 360.5h0M180.8 363h0M177.5 368.7h0M177.8 367.8h0M179.4 365.8h0M174.7 362.7h0M181.7 360.1h0M178.9 368.4h0M178.5 340.8h0M178.7 358.8h0M174.7 373.3h0M175 368.2h0M178 367.3h0M186.5 349.4h0M181 364.7h0M177.8 359.7h0M177.9 365.9h0M173 379.2h0M175.7 364h0M173.7 366.3h0M177.6 375h0M181.5 361.7h0M183 365.3h0M180.6 380.9h0M177.9 356.1h0M177.8 378.1h0M177.8 375.1h0M178.6 373.4h0M182.3 363.6h0M173.6 363.9h0M176.8 354.9h0M176.5 371.6h0M173.9 351.7h0M181.4 358.3h0M175 377h0M180.9 369.1h0M182.8 342.4h0M179.1 369h0M173.3 366.5h0M179.4 364.7h0M179.2 373.4h0M178.3 363.4h0M172.8 374.8h0M175.7 368h0M181.7 372.8h0M174 364.2h0M177.6 351.1h0M174.6 370.2h0M179.1 363.9h0M179.8 355.6h0M175.6 363.8h0M180.7 363.1h0M176.9 368.3h0M184 355.3h0M179.3 367.3h0M177.3 367.6h0M171.6 364.9h0M178.6 354.8h0M180.6 364.9h0M175.9 371.9h0M175.8 359h0M179.4 373.4h0M184.7 362.5h0M175.1 352.1h0M174 365.9h0M177.9 359.6h0M175.5 359.1h0M175.3 375.5h0M178.1 377.5h0M179.5 372.4h0M181 369.9h0M181.3 375.9h0M183.2 368.2h0M176.3 369.9h0M177.5 359.4h0M180.5 356.1h0M175.6 377.5h0M177.2 372.6h0M179.4 369.1h0M177.4 370.8h0M174.1 370.1h0M175.4 358.6h0M177.6 353.8h0M171.2 367.9h0M178.6 371.4h0M184.5 368h0M181.1 359.5h0M181.4 356h0M185.1 358.1h0M175.6 371.7h0M169.3 376h0M174.6 366.8h0M180.7 367.3h0M181.4 361.6h0M182.3 347.1h0M183.4 360.5h0M175.1 365.3h0M184 360.2h0M178.2 362.4h0M176.5 353.9h0M178.8 371.8h0M175.2 367.1h0M178.8 369h0M177.2 365.8h0M180 356.5h0M176.4 372.3h0M174.5 376.5h0M178.4 356h0M178.5 353.8h0M181.6 352.1h0M178.1 363.5h0M176.4 369h0M179.4 360.9h0M180.9 362h0M179 377.4h0M177.9 373.6h0M173 369.8h0M173.4 363.4h0M183.2 342.8h0M176.3 358.5h0M174.8 365.3h0M181.2 355.9h0M178.1 349.3h0M178.1 347.2h0M172.5 368.9h0M181.5 358.9h0M179.8 359h0M179 381h0M171.2 357h0M176.4 361.1h0M180.8 379.7h0M177 371h0M173.2 362.3h0M177.1 364.1h0M180.6 352.2h0M172.3 365.3h0M179.5 370h0M179.9 351.7h0M178.2 351.9h0M183.5 369.5h0M179.8 367.6h0M175.2 375.5h0M179.8 371.3h0M178.7 372.1h0M176.4 369.1h0M178.4 363.4h0M169.7 376.9h0M175 375.6h0M174.8 363.5h0M181.1 365.3h0M180.4 355.3h0M172.2 379.3h0M178.4 364.8h0M174.7 356h0M174.6 364.6h0M178.2 360.2h0M175.6 366.2h0M183.2 354h0M172 374.6h0M173.8 361.4h0M176 381.2h0M174.9 339.7h0M176.3 374.7h0M179.2 358.6h0M180.9 347.9h0M178.6 378.6h0M176.2 372.5h0M172.7 377.7h0M176.7 358.4h0M177.6 350h0M173.6 363.2h0M179.9 360.8h0M172.5 367.7h0M180.8 366.9h0M174.8 362.5h0M171.8 364.1h0M180.3 375.6h0M177 369.2h0M176 366.4h0M175.7 366.7h0M175.9 367h0M180 365.7h0M173.1 369.2h0M177.6 361.1h0M180.6 358.6h0M180 370.7h0M176.5 359.2h0M178.5 357.7h0M183.5 346.5h0M178.7 362.6h0M173.6 370.4h0M175.7 369.2h0M176.8 362.9h0M178.3 374h0M180.9 365.8h0M182.8 363.2h0M175.8 348.8h0M174.3 357.4h0M171.8 367.5h0M177.9 365.2h0M178.7 364.7h0M177.4 362.7h0M179.3 355.8h0M179.9 379.3h0M173.7 372.8h0M172 370h0M174.3 373.8h0M177 373.7h0M179.1 370.3h0M175 379.1h0M178.3 369.8h0M182.6 363.9h0M181.9 375.6h0M179.8 353.1h0M182 363.4h0M178 366.6h0M180 371.4h0M172.9 359.1h0M178.7 367.2h0M179.6 370.7h0M183.8 360h0M181.4 369.4h0M177.9 371.5h0M175.9 371.5h0M176.3 371.6h0M174 375.3h0M173.9 359.2h0M177.4 367.6h0M175.8 361.7h0M177.3 374.7h0M182.4 362h0M178 362.8h0M173.6 361h0M183 354.4h0M185.5 375.2h0M183 367.9h0M170.1 368.3h0M183.5 361.3h0M180.8 372.6h0M179.3 372.3h0M178.8 371.4h0M181 369.7h0M179.3 369.5h0M179.3 358.1h0M173.5 356h0M175.8 352.2h0M180.4 363h0M180.8 361.9h0M179.2 363.9h0M181.2 377.2h0M176.5 381h0M179.3 373.6h0M174.9 359.7h0M178.6 363.7h0M178.6 348h0M175.6 364.3h0M180.1 356.4h0M175.2 381.1h0M180.7 348.6h0M177.2 365.5h0M181.5 367.8h0M181.7 369h0M179.8 377.7h0M182.4 367.9h0M173.8 366.7h0M180.2 359.7h0M180.6 364.5h0M180.1 367.5h0M173.6 374.2h0M182.9 374.4h0M180.8 350.8h0M178.9 365.4h0M177.7 348.6h0M178 374.2h0M171.5 367.8h0M176 377.9h0M178.9 357.2h0M177.1 369.3h0M176.5 358.4h0M177.6 373.2h0M176.5 369.7h0M176.7 362.4h0M177.2 374h0M182.9 365.2h0M180.9 362.8h0M180.8 353.4h0M172.2 358h0M177.2 353.6h0M181.6 362.1h0M178 366.2h0M178.6 355.3h0M186.3 349.2h0M176.9 371.6h0M177.3 364.6h0M178.5 367.8h0M175.5 374.8h0M177.6 378.8h0M180.6 348.4h0M173.3 360.4h0M181.2 351.6h0M174.6 376.1h0M179.7 359.5h0M177.4 366.5h0M176.9 362.7h0M175.6 367.2h0M181 378.9h0M179.2 353.4h0M173.1 366.2h0M179.3 360.1h0M175.6 363.3h0M177.8 371.5h0M182.5 345.2h0M175.7 367.6h0M178 372.7h0M171.3 378.5h0M174.4 363.3h0M177 361.2h0M174.4 372.3h0M179.8 369h0M174.7 359.6h0M177.2 369h0M176.5 363h0M185.9 367.2h0M179.9 344.1h0M173.5 379.4h0M181.9 355.6h0M180.1 367.4h0M174.4 372.1h0M176.3 362.7h0M177.7 367.4h0M176.1 367.9h0M177.6 367.3h0M179.8 360.2h0M173.7 364.3h0M181.2 369h0M179.4 359.2h0M175.9 354.3h0M175.5 361.9h0M173.2 363.9h0M172.2 370.5h0M179.9 350.3h0M175.9 367.3h0M178.1 372.5h0M176.9 364.1h0M176.5 370.2h0M175.9 363.9h0M178.7 362.6h0M172.9 376.9h0M180.5 357.9h0M184.8 359.8h0M175.6 362h0M177.7 378.8h0M181.4 370.9h0M177.2 371.4h0M176.3 359.1h0M179.2 367.5h0M179.8 356.9h0M180.4 353.2h0M180.7 366.1h0M176.4 361.2h0M174 377.1h0M167.6 374.1h0M177.6 367.8h0M176.5 353.8h0M179.1 361.8h0M178.1 375h0M176.8 370.2h0M178.1 367.7h0M176 367.4h0M179.1 366.4h0M178.2 352.8h0M172.7 378.7h0M180.6 368.6h0M178.9 364.4h0M178.8 374.2h0M176.7 368.2h0M182.7 352.3h0M175.7 360.2h0M174.8 361.3h0M175.7 361.8h0M180.8 355.6h0M176.5 377.6h0M179.9 355.1h0M174.6 375.4h0M177.8 360h0M181.1 359.7h0M173.7 370.4h0M178.7 359.9h0M177.9 375.3h0M181 366.9h0M178.6 370.1h0M171.3 379.4h0M176.5 360.5h0M176.5 356.9h0M181.2 366.1h0M178.3 349.5h0M178.4 365.2h0M174.8 364.3h0M171.5 370.4h0M173.5 369.4h0M180.7 347.2h0M175.2 359.4h0M179.5 371.1h0M177.7 380.4h0M177.6 361.1h0M173.4 355.8h0M180.6 358.5h0M174 373.5h0M168.6 376.6h0M184 350.6h0M179.3 365.7h0M181 363h0M175.8 377.8h0M175.5 369h0M179.9 364.9h0M179.9 370.5h0M182.5 351.2h0M174.3 367.7h0M179.7 378.5h0M178.8 359.1h0M176.9 348.2h0M175.6 370.4h0M179.4 352.8h0M177.5 366h0M173.8 377.9h0M177.8 375.3h0M179.3 357.2h0M179.8 375.7h0M177.7 353.8h0M181 361h0M174.4 364.4h0M180.5 359.3h0M176.7 374.2h0M182 352.4h0M177.9 381.3h0M180.8 365.2h0M180.9 352.1h0M176.7 360.8h0M184.2 366.5h0M172.8 379.9h0M183.6 351.8h0M179.3 350.8h0M183.8 346.3h0M184.8 357.2h0M179.1 368.9h0M181.7 357.4h0M180.9 363.5h0M179.2 367.8h0M183.6 355h0M172.8 370.7h0M184.4 371.4h0M176.5 371.4h0M174.1 365.9h0" stroke="#4e4e4e" stroke-width="1.0" stroke-linecap="square" fill="none" opacity="0.85"/>
<rect x="164" y="380.7" width="21.5" height="1.4" fill="#444"/>
<polygon points="191.2,268.3 212,267.6 236.2,277 238,302 212.6,327.8 188.2,324.6 177.7,293.8" fill="none" stroke="#6a6a6a" stroke-width="1.45" stroke-linejoin="round"/>
<polygon points="222.2,339.9 225.6,331 236.9,320.6 267,314.8 296.2,317.2 317.4,322.9 331.2,331 336.9,344.8 332.8,357.8 309.2,366.9 294.6,368.7 232.9,368.7 222.2,352.1" fill="none" stroke="#6a6a6a" stroke-width="1.45" stroke-linejoin="round"/>
<path d="M347.6 232.4V381.9" fill="none" stroke="#4a4a4a" stroke-width="0.8"/>
<path d="M347.6 232.4H163.8V381.9H347.6" fill="none" stroke="#1a1a1a" stroke-width="1.15" stroke-linecap="square"/>
<path d="M163.8 381.9v4.2M171 381.9v2.3M178.2 381.9v2.3M185.4 381.9v2.3M192.5 381.9v2.3M199.7 381.9v4.2M206.9 381.9v2.3M214.1 381.9v2.3M221.3 381.9v2.3M228.5 381.9v2.3M235.7 381.9v4.2M242.9 381.9v2.3M250 381.9v2.3M257.2 381.9v2.3M264.4 381.9v2.3M271.6 381.9v4.2M278.8 381.9v2.3M286 381.9v2.3M293.2 381.9v2.3M300.3 381.9v2.3M307.5 381.9v4.2M314.7 381.9v2.3M321.9 381.9v2.3M329.1 381.9v2.3M336.3 381.9v2.3M343.5 381.9v4.2M163.8 381.9h-3.8M163.8 370.6h-2M163.8 364.1h-2M163.8 359.4h-2M163.8 355.8h-2M163.8 352.8h-2M163.8 350.3h-2M163.8 348.1h-2M163.8 346.2h-2M163.8 344.5h-3.8M163.8 333.3h-2M163.8 326.7h-2M163.8 322h-2M163.8 318.4h-2M163.8 315.4h-2M163.8 312.9h-2M163.8 310.8h-2M163.8 308.9h-2M163.8 307.1h-3.8M163.8 295.9h-2M163.8 289.3h-2M163.8 284.6h-2M163.8 281h-2M163.8 278.1h-2M163.8 275.6h-2M163.8 273.4h-2M163.8 271.5h-2M163.8 269.8h-3.8M163.8 258.5h-2M163.8 251.9h-2M163.8 247.3h-2M163.8 243.7h-2M163.8 240.7h-2M163.8 238.2h-2M163.8 236h-2M163.8 234.1h-2M163.8 232.4h-3.8" stroke="#1a1a1a" stroke-width="0.8" fill="none"/>
<text class="t" transform="translate(163.9 394.9) scale(0.93 1)" font-size="10" text-anchor="middle">0</text>
<text class="t" transform="translate(199.8 394.9) scale(0.93 1)" font-size="10" text-anchor="middle">200</text>
<text class="t" transform="translate(235.8 394.9) scale(0.93 1)" font-size="10" text-anchor="middle">400</text>
<text class="t" transform="translate(271.7 394.9) scale(0.93 1)" font-size="10" text-anchor="middle">600</text>
<text class="t" transform="translate(307.6 394.9) scale(0.93 1)" font-size="10" text-anchor="middle">800</text>
<text class="t" transform="translate(343.6 394.9) scale(0.93 1)" font-size="10" text-anchor="middle">1000</text>
<text class="t" transform="translate(144.2 385.4) scale(0.93 1)" font-size="10" text-anchor="start">10<tspan dy="-3.4" font-size="7.8">0</tspan></text>
<text class="t" transform="translate(144.2 348) scale(0.93 1)" font-size="10" text-anchor="start">10<tspan dy="-3.4" font-size="7.8">1</tspan></text>
<text class="t" transform="translate(144.2 310.6) scale(0.93 1)" font-size="10" text-anchor="start">10<tspan dy="-3.4" font-size="7.8">2</tspan></text>
<text class="t" transform="translate(144.2 273.3) scale(0.93 1)" font-size="10" text-anchor="start">10<tspan dy="-3.4" font-size="7.8">3</tspan></text>
<text class="t" transform="translate(144.2 235.9) scale(0.93 1)" font-size="10" text-anchor="start">10<tspan dy="-3.4" font-size="7.8">4</tspan></text>
<text x="229" y="408.7" font-size="10.5" textLength="50.1" lengthAdjust="spacingAndGlyphs">Side scatter</text>
<text transform="translate(138.9 339.8) rotate(-90)" font-size="9.8" textLength="66.2" lengthAdjust="spacingAndGlyphs">anti-CD14-FITC</text>
<text x="182.7" y="258.7" font-size="10.5" textLength="45.5" lengthAdjust="spacingAndGlyphs">monocytes</text>
<text x="266.5" y="306" font-size="10.5" textLength="47.1" lengthAdjust="spacingAndGlyphs">neutrophils</text>
</g>
<path d="M218.7 287.7L374.2 228.2" stroke="#1a1a1a" stroke-width="1.25" fill="none"/>
<path d="M379.2 226.3L373 231.4L374.2 228.2L371.2 226.6Z" fill="#1a1a1a"/>
<path d="M308.4 355.7L384.1 405.8" stroke="#1a1a1a" stroke-width="1.25" fill="none"/>
<path d="M388.6 408.8L380.8 406.8L384.1 405.8L383.7 402.4Z" fill="#1a1a1a"/>
<g id="panelB">
<text x="397" y="105.9" font-size="15.3" text-anchor="start" >B</text>
<text x="429.5" y="118.5" font-size="10.5" textLength="126.4" lengthAdjust="spacingAndGlyphs">monocyte-platelet aggregates</text>
<path d="M397.2 243.1h1.2V234.3h1.2V219.3h1.2V219.9h1.2V231h1.2V219.8h1.2V208.9h1.2V203.2h1.2V209.6h1.2V216.8h1.2V217.1h1.2V198.7h1.2V180.6h1.2V175.5h1.2V187.9h1.2V194.8h1.2V204.8h1.2V201.6h1.2V195.8h1.2V203.4h1.2V206.8h1.2V211.7h1.2V197.6h1.2V202.4h1.2V213.4h1.2V204.8h1.2V226.2h1.2V236.8h1.2V244.6h1.2V247.2h1.2V251.8h1.2V253.6h1.2V257.5h1.2V262.4h1.2V263.5h1.2V268.1h1.2V269.9h1.2V271h1.2" fill="none" stroke="#2a2a2a" stroke-width="1.5" stroke-dasharray="1.4 1.15" stroke-linejoin="round"/>
<path d="M398.3 240.8L400 232.7L401.7 220.2L403.4 232L405.1 208.2L406.8 202.9L408.5 214.4L410.2 224.4L411.9 197L413.6 169.5L415.3 189.7L417 198.9L418.7 216.6L420.4 205.7L422.1 205.1L423.8 209.9L425.5 209.8L427.2 205.6L428.9 211.9L430.6 219.9L432.3 241.9L434 249.5L435.7 252.7L437.4 257.7L439.1 262.7L440.8 267.6L442.5 271.5L444.2 271.9" fill="none" stroke="#3a3a3a" stroke-width="1.3" stroke-dasharray="1.2 1.7" opacity="0.85"/>
<path d="M398 271.2h0.7V271.2h0.7V271.8h0.7V270.8h0.7V271.5h0.7V270.7h0.7V271.9h0.7V271.6h0.7V271.9h0.7V271.4h0.7V271.7h0.7V271.4h0.7V271.2h0.7V271.6h0.7V271h0.7V271.4h0.7V271.8h0.7V271.5h0.7V271.3h0.7V271.9h0.7V271.5h0.7V271.2h0.7V271.5h0.7V271.2h0.7V271.3h0.7V271.3h0.7V271.9h0.7V271.4h0.7V271.5h0.7V271.7h0.7V271.9h0.7V271.3h0.7V271.1h0.7V271.9h0.7V270.8h0.7V271.2h0.7V271.6h0.7V271.9h0.7V270.9h0.7V270.3h0.7V271.6h0.7V271.1h0.7V271.2h0.7V271.5h0.7V271.4h0.7V271.4h0.7V271.1h0.7V271.9h0.7V271.9h0.7V271.3h0.7V271.1h0.7V271.6h0.7V271.5h0.7V270.8h0.7V271.1h0.7V271.8h0.7V271.2h0.7V271.1h0.7V271.4h0.7V271.3h0.7V271.3h0.7V270.4h0.7V271.9h0.7V271.4h0.7V270.9h0.7V271.7h0.7V271.4h0.7V271.3h0.7V271.7h0.7V271.9h0.7V271.5h0.7V271.9h0.7V271.9h0.7V270.8h0.7V271h0.7V271.6h0.7V270.5h0.7V271.1h0.7V271.8h0.7V271.7h0.7V271.5h0.7V270.4h0.7V271.9h0.7V271.5h0.7V271.6h0.7V271.5h0.7V270.4h0.7V270.6h0.7V270.7h0.7V271.9h0.7V270.8h0.7V271.1h0.7V271.1h0.7V271.5h0.7V271.4h0.7V271.3h0.7V270.6h0.7V269.7h0.7V271.3h0.7V271.3h0.7V271.8h0.7V271.2h0.7V270.9h0.7V271.4h0.7V270.4h0.7V270.7h0.7V270.7h0.7V271.3h0.7V271.9h0.7V271.5h0.7V271.7h0.7V271.2h0.7V271.2h0.7V270.8h0.7V270.9h0.7V269.8h0.7V270.4h0.7V270.3h0.7V271.4h0.7V271.3h0.7V271.6h0.7V271.8h0.7V270.8h0.7V271.5h0.7V271.9h0.7V270.9h0.7V271.5h0.7V270.8h0.7V270h0.7V270.9h0.7V270.4h0.7V270.9h0.7V270.5h0.7V270.8h0.7V269.2h0.7V271.7h0.7V271.2h0.7V269.9h0.7V269.4h0.7V270h0.7V270.3h0.7V270h0.7V269.9h0.7V267.4h0.7V267.4h0.7V269.1h0.7V267.5h0.7V264.9h0.7V265h0.7V263.6h0.7V263.8h0.7V266.7h0.7V265.3h0.7V267h0.7V266.2h0.7V262.9h0.7V262.2h0.7V264.8h0.7V258.5h0.7V258h0.7V262.8h0.7V262.3h0.7V263.4h0.7V266.3h0.7V261.8h0.7V264.3h0.7V262h0.7V261.1h0.7V260.4h0.7V261.8h0.7V258.1h0.7V253.4h0.7V253.2h0.7V257h0.7V254.8h0.7V249.2h0.7V255.3h0.7V247.2h0.7V243.2h0.7V243.5h0.7V244.1h0.7V244.2h0.7V243.6h0.7V240.8h0.7V241.4h0.7V237.5h0.7V238.3h0.7V234.3h0.7V235.3h0.7V230h0.7V231h0.7V228.9h0.7V226.9h0.7V219.7h0.7V212.1h0.7V204.9h0.7V206.8h0.7V200.7h0.7V190.8h0.7V195.2h0.7V193h0.7V196.4h0.7V188.4h0.7V187.2h0.7V184h0.7V186.2h0.7V186.3h0.7V182.2h0.7V177.6h0.7V178.3h0.7V173.8h0.7V172.7h0.7V165.6h0.7V168.9h0.7V161.8h0.7V161h0.7V164.1h0.7V167.7h0.7V151.4h0.7V134.2h0.7V142.1h0.7V161.2h0.7V173h0.7V178.6h0.7V176.5h0.7V180.5h0.7V180.6h0.7V187.4h0.7V191.9h0.7V200.4h0.7V199.8h0.7V209.7h0.7V222.6h0.7V226.1h0.7V237.8h0.7V240.7h0.7V250.6h0.7V259.6h0.7V261h0.7V264.5h0.7V269.9h0.7V267.6h0.7V268.5h0.7V269.5h0.7V270.8h0.7V271.3h0.7V271.8h0.7V271.7h0.7V271.2h0.7V271.2h0.7V270.7h0.7V270.7h0.7V271.1h0.7V271.7h0.7V271.5h0.7V271.8h0.7V271.8h0.7V271.4h0.7V271.9h0.7V271.3h0.7V271.2h0.7V271.3h0.7V271.9h0.7V271.5h0.7V271.3h0.7V271.7h0.7V271.9h0.7V271.5h0.7V271.5h0.7V271.9h0.7V271.9h0.7V271.9h0.7V271.4h0.7V271.7h0.7V271.8h0.7V271.1h0.7V271.9h0.7V271.7h0.7V271.9H398Z" fill="#333" stroke="#262626" stroke-width="0.5" stroke-linejoin="miter"/>
<path d="M406 272.2l1.3 -5.3h0.7l1.3 5.3zM415.2 272.2l1.3 -5.3h0.7l1.3 5.3zM421.8 272.2l1.3 -4.1h0.7l1.3 4.1zM434.9 272.2l1.3 -4.1h0.7l1.3 4.1zM438.4 272.2l1.3 -5.2h0.7l1.3 5.2zM441.9 272.2l1.3 -5h0.7l1.3 5zM446.9 272.2l1.3 -4.9h0.7l1.3 4.9zM451.4 272.2l1.3 -4.4h0.7l1.3 4.4zM462.4 272.2l1.3 -4.8h0.7l1.3 4.8zM465.9 272.2l1.3 -4.8h0.7l1.3 4.8zM478.4 272.2l1.3 -4.8h0.7l1.3 4.8zM482.9 272.2l1.3 -4.2h0.7l1.3 4.2zM488.4 272.2l1.3 -4.6h0.7l1.3 4.6zM492.4 272.2l1.3 -4.6h0.7l1.3 4.6z" fill="#222" stroke="#222" stroke-width="0.5" stroke-linejoin="round"/>
<path d="M444.7 240.6H588.5M444.7 233.6V247.8M588.5 233.6V247.8" stroke="#222" stroke-width="0.9" fill="none"/>
<rect x="397.4" y="125.6" width="195.2" height="146.3" fill="none" stroke="#484848" stroke-width="0.9"/>
<path d="M397 271.9H592.6" fill="none" stroke="#1a1a1a" stroke-width="1.3"/>
<path d="M397.4 271.9h-5M397.4 264.6h-3.1M397.4 257.3h-3.1M397.4 250h-3.1M397.4 242.6h-3.1M397.4 235.3h-5M397.4 228h-3.1M397.4 220.7h-3.1M397.4 213.4h-3.1M397.4 206.1h-3.1M397.4 198.8h-5M397.4 191.4h-3.1M397.4 184.1h-3.1M397.4 176.8h-3.1M397.4 169.5h-3.1M397.4 162.2h-5M397.4 154.9h-3.1M397.4 147.5h-3.1M397.4 140.2h-3.1M397.4 132.9h-3.1M397.4 125.6h-5M397.4 271.9v4M412.1 271.9v2.2M420.7 271.9v2.2M426.8 271.9v2.2M431.5 271.9v2.2M435.4 271.9v2.2M438.6 271.9v2.2M441.5 271.9v2.2M444 271.9v2.2M446.2 271.9v4M460.9 271.9v2.2M469.5 271.9v2.2M475.6 271.9v2.2M480.3 271.9v2.2M484.2 271.9v2.2M487.4 271.9v2.2M490.3 271.9v2.2M492.8 271.9v2.2M495 271.9v4M509.7 271.9v2.2M518.3 271.9v2.2M524.4 271.9v2.2M529.1 271.9v2.2M533 271.9v2.2M536.2 271.9v2.2M539.1 271.9v2.2M541.6 271.9v2.2M543.8 271.9v4M558.5 271.9v2.2M567.1 271.9v2.2M573.2 271.9v2.2M577.9 271.9v2.2M581.8 271.9v2.2M585 271.9v2.2M587.9 271.9v2.2M590.4 271.9v2.2M592.6 271.9v4" stroke="#1a1a1a" stroke-width="0.8" fill="none"/>
<text class="t" transform="translate(390.4 275) scale(1.06 1)" font-size="9.2" text-anchor="end">0</text>
<text class="t" transform="translate(390.4 238.4) scale(1.06 1)" font-size="9.2" text-anchor="end">10</text>
<text class="t" transform="translate(390.4 201.8) scale(1.06 1)" font-size="9.2" text-anchor="end">20</text>
<text class="t" transform="translate(390.4 165.3) scale(1.06 1)" font-size="9.2" text-anchor="end">30</text>
<text class="t" transform="translate(390.4 128.7) scale(1.06 1)" font-size="9.2" text-anchor="end">40</text>
<text class="t" transform="translate(390.4 287) scale(0.93 1)" font-size="9.5" text-anchor="start">10<tspan dy="-3.4" font-size="7.4">0</tspan></text>
<text class="t" transform="translate(439.2 287) scale(0.93 1)" font-size="9.5" text-anchor="start">10<tspan dy="-3.4" font-size="7.4">1</tspan></text>
<text class="t" transform="translate(488 287) scale(0.93 1)" font-size="9.5" text-anchor="start">10<tspan dy="-3.4" font-size="7.4">2</tspan></text>
<text class="t" transform="translate(536.8 287) scale(0.93 1)" font-size="9.5" text-anchor="start">10<tspan dy="-3.4" font-size="7.4">3</tspan></text>
<text class="t" transform="translate(585.6 287) scale(0.93 1)" font-size="9.5" text-anchor="start">10<tspan dy="-3.4" font-size="7.4">4</tspan></text>
<text x="475" y="300.8" font-size="11" textLength="40" lengthAdjust="spacingAndGlyphs">CD41-PE</text>
<text transform="translate(374.7 213.5) rotate(-90)" font-size="9.8" textLength="31.1" lengthAdjust="spacingAndGlyphs">Counts</text>
</g>
<g id="panelC">
<text x="397.4" y="358.5" font-size="15.3" text-anchor="start" >C</text>
<text x="429.9" y="367.2" font-size="10.5" textLength="126" lengthAdjust="spacingAndGlyphs">neutrophil-platelet aggregates</text>
<path d="M398.7 491.4h1.2V487.2h1.2V484.2h1.2V478.8h1.2V470.2h1.2V460.7h1.2V452.9h1.2V445.8h1.2V438.3h1.2V430.8h1.2V423.2h1.2V412.3h1.2V404.4h1.2V397.8h1.2V387.4h1.2V388.3h1.2V384.5h1.2V382.3h1.2V387.1h1.2V389.6h1.2V395.4h1.2V402.1h1.2V413.5h1.2V428.7h1.2V440.7h1.2V454.6h1.2V466.6h1.2V478.7h1.2V491h1.2V501.7h1.2V509.7h1.2V515.6h1.2V519h1.2V522.1h1.2" fill="none" stroke="#383838" stroke-width="1.4" stroke-dasharray="2 1.1 1 1.1" stroke-linejoin="round"/>
<path d="M398 519.6h0.8V518.8h0.8V516.5h0.8V516.2h0.8V516.7h0.8V517.3h0.8V515.7h0.8V513.9h0.8V513.6h0.8V515h0.8V516.6h0.8V516.5h0.8V516.3h0.8V516.4h0.8V516.7h0.8V516.1h0.8V516.7h0.8V516.9h0.8V517.8h0.8V516.5h0.8V516.2h0.8V513.9h0.8V515.7h0.8V516.3h0.8V516.9h0.8V517.9h0.8V518.8h0.8V518.6h0.8V519.7h0.8V520.4h0.8V520.7h0.8V521h0.8V519.9h0.8V520.9h0.8V520.7h0.8V521.5h0.8V521.2h0.8V521.3h0.8V521.5h0.8V521.1h0.8V521.5h0.8V521.2h0.8V522.4h0.8V521.4h0.8V521.7h0.8V521h0.8V521.1h0.8V521.4h0.8V522h0.8V522h0.8V521.9h0.8V521.5h0.8V522.5h0.8V521.4h0.8V521.6h0.8V522.1h0.8V521.6h0.8V522.1h0.8V522.4h0.8V522.1h0.8V522.3h0.8V522.2h0.8V522h0.8V521.1h0.8V521.8h0.8V522.3h0.8V521.7h0.8V522.1h0.8V522.4h0.8V522.8h0.8V521.9h0.8V522.2h0.8V522.5h0.8V522.6h0.8V522h0.8V523.1h0.8V522.2h0.8V522.8h0.8V522.3h0.8V522.5h0.8V522.9h0.8V522.5h0.8V522.3h0.8V521.8h0.8V521.9h0.8V521.6h0.8V522.8h0.8V521.4h0.8V521h0.8V522.5h0.8V522.3h0.8V521.6h0.8V521.9h0.8V521.2h0.8V521.2h0.8V521.5h0.8V521.4h0.8V520.9h0.8V521.7h0.8V521.2h0.8V520.9h0.8V520.1h0.8V520.6h0.8V520.2h0.8V520h0.8V520.2h0.8V519.2h0.8V519.3h0.8V519.3h0.8V518.7h0.8V519.5h0.8V516.8h0.8V517.4h0.8V516.4h0.8V516.7h0.8V518h0.8V514.9h0.8V515.3h0.8V515.4h0.8V514.1h0.8V513.8h0.8V511h0.8V512.1h0.8V509.6h0.8V508.4h0.8V508.4h0.8V506.3h0.8V503.1h0.8V501h0.8V499.6h0.8V497.8h0.8V495.7h0.8V493.9h0.8V491.4h0.8V494.7h0.8V491.6h0.8V488.2h0.8V486h0.8V485.2h0.8V483.3h0.8V478.7h0.8V481.5h0.8V477.9h0.8V474.6h0.8V473h0.8V470.2h0.8V468.9h0.8V464.9h0.8V464.1h0.8V461.1h0.8V453.7h0.8V449.3h0.8V444.7h0.8V443.2h0.8V439.6h0.8V438.3h0.8V435.5h0.8V432.7h0.8V426h0.8V427.3h0.8V419.8h0.8V411.9h0.8V407.6h0.8V405.7h0.8V412.1h0.8V406.3h0.8V410h0.8V404.9h0.8V406.3h0.8V402.2h0.8V403.1h0.8V406.4h0.8V404h0.8V406.1h0.8V400.7h0.8V402.9h0.8V402.9h0.8V407.4h0.8V409.1h0.8V411.1h0.8V414h0.8V421.3h0.8V425.8h0.8V427.9h0.8V429.4h0.8V436.3h0.8V447.4h0.8V452.4h0.8V460.8h0.8V469h0.8V469.5h0.8V477.1h0.8V485.6h0.8V490.1h0.8V495.8h0.8V500h0.8V504.2h0.8V511.7h0.8V511.5h0.8V513.4h0.8V516.4h0.8V517.6h0.8V518.2h0.8V518.5h0.8V520.1h0.8V521.1h0.8V521.3h0.8V521.5h0.8V521.7h0.8V522.3h0.8V522.4h0.8V523h0.8V523.4h0.8V523.2h0.8V523.2h0.8V523.6h0.8V523.4h0.8V522.8h0.8V523.1h0.8V523.3h0.8V523.1h0.8V523.5h0.8V522.9h0.8V522.9h0.8V523.7h0.8V523.6h0.8V523.1h0.8V523.5h0.8V523.8h0.8V523.3h0.8V523.3h0.8V523.3h0.8V523.4h0.8V523.2h0.8V523.5h0.8V523.3h0.8V523.7h0.8V524h0.8V523.5h0.8V523.9h0.8V524h0.8V523.3h0.8V524H398Z" fill="#808080"/>
<path d="M398 519.6h0.8V518.8h0.8V516.5h0.8V516.2h0.8V516.7h0.8V517.3h0.8V515.7h0.8V513.9h0.8V513.6h0.8V515h0.8V516.6h0.8V516.5h0.8V516.3h0.8V516.4h0.8V516.7h0.8V516.1h0.8V516.7h0.8V516.9h0.8V517.8h0.8V516.5h0.8V516.2h0.8V513.9h0.8V515.7h0.8V516.3h0.8V516.9h0.8V517.9h0.8V518.8h0.8V518.6h0.8V519.7h0.8V520.4h0.8V520.7h0.8V521h0.8V519.9h0.8V520.9h0.8V520.7h0.8V521.5h0.8V521.2h0.8V521.3h0.8V521.5h0.8V521.1h0.8V521.5h0.8V521.2h0.8V522.4h0.8V521.4h0.8V521.7h0.8V521h0.8V521.1h0.8V521.4h0.8V522h0.8V522h0.8V521.9h0.8V521.5h0.8V522.5h0.8V521.4h0.8V521.6h0.8V522.1h0.8V521.6h0.8V522.1h0.8V522.4h0.8V522.1h0.8V522.3h0.8V522.2h0.8V522h0.8V521.1h0.8V521.8h0.8V522.3h0.8V521.7h0.8V522.1h0.8V522.4h0.8V522.8h0.8V521.9h0.8V522.2h0.8V522.5h0.8V522.6h0.8V522h0.8V523.1h0.8V522.2h0.8V522.8h0.8V522.3h0.8V522.5h0.8V522.9h0.8V522.5h0.8V522.3h0.8V521.8h0.8V521.9h0.8V521.6h0.8V522.8h0.8V521.4h0.8V521h0.8V522.5h0.8V522.3h0.8V521.6h0.8V521.9h0.8V521.2h0.8V521.2h0.8V521.5h0.8V521.4h0.8V520.9h0.8V521.7h0.8V521.2h0.8V520.9h0.8V520.1h0.8V520.6h0.8V520.2h0.8V520h0.8V520.2h0.8V519.2h0.8V519.3h0.8V519.3h0.8V518.7h0.8V519.5h0.8V516.8h0.8V517.4h0.8V516.4h0.8V516.7h0.8V518h0.8V514.9h0.8V515.3h0.8V515.4h0.8V514.1h0.8V513.8h0.8V511h0.8V512.1h0.8V509.6h0.8V508.4h0.8V508.4h0.8V506.3h0.8V503.1h0.8V501h0.8V499.6h0.8V497.8h0.8V495.7h0.8V493.9h0.8V491.4h0.8V494.7h0.8V491.6h0.8V488.2h0.8V486h0.8V485.2h0.8V483.3h0.8V478.7h0.8V481.5h0.8V477.9h0.8V474.6h0.8V473h0.8V470.2h0.8V468.9h0.8V464.9h0.8V464.1h0.8V461.1h0.8V453.7h0.8V449.3h0.8V444.7h0.8V443.2h0.8V439.6h0.8V438.3h0.8V435.5h0.8V432.7h0.8V426h0.8V427.3h0.8V419.8h0.8V411.9h0.8V407.6h0.8V405.7h0.8V412.1h0.8V406.3h0.8V410h0.8V404.9h0.8V406.3h0.8V402.2h0.8V403.1h0.8V406.4h0.8V404h0.8V406.1h0.8V400.7h0.8V402.9h0.8V402.9h0.8V407.4h0.8V409.1h0.8V411.1h0.8V414h0.8V421.3h0.8V425.8h0.8V427.9h0.8V429.4h0.8V436.3h0.8V447.4h0.8V452.4h0.8V460.8h0.8V469h0.8V469.5h0.8V477.1h0.8V485.6h0.8V490.1h0.8V495.8h0.8V500h0.8V504.2h0.8V511.7h0.8V511.5h0.8V513.4h0.8V516.4h0.8V517.6h0.8V518.2h0.8V518.5h0.8V520.1h0.8V521.1h0.8V521.3h0.8V521.5h0.8V521.7h0.8V522.3h0.8V522.4h0.8V523h0.8V523.4h0.8V523.2h0.8V523.2h0.8V523.6h0.8V523.4h0.8V522.8h0.8V523.1h0.8V523.3h0.8V523.1h0.8V523.5h0.8V522.9h0.8V522.9h0.8V523.7h0.8V523.6h0.8V523.1h0.8V523.5h0.8V523.8h0.8V523.3h0.8V523.3h0.8V523.3h0.8V523.4h0.8V523.2h0.8V523.5h0.8V523.3h0.8V523.7h0.8V524h0.8V523.5h0.8V523.9h0.8V524h0.8V523.3h0.8" fill="none" stroke="#262626" stroke-width="1.2" stroke-linejoin="round"/>
<rect x="397.6" y="476.8" width="1.5" height="47.2" fill="#333"/>
<path d="M437.5 494.3H588.5M437.5 487V501.6M588.5 487V501.6" stroke="#444" stroke-width="0.9" fill="none"/>
<rect x="397.6" y="375.6" width="194.2" height="148.4" fill="none" stroke="#484848" stroke-width="0.9"/>
<path d="M397.2 524H591.8" fill="none" stroke="#1a1a1a" stroke-width="1.2"/>
<path d="M397.6 524h-5.4M397.6 518.5h-3.1M397.6 513.1h-3.1M397.6 507.6h-3.1M397.6 502.2h-3.1M397.6 496.7h-5.4M397.6 491.2h-3.1M397.6 485.8h-3.1M397.6 480.3h-3.1M397.6 474.9h-3.1M397.6 469.4h-5.4M397.6 463.9h-3.1M397.6 458.5h-3.1M397.6 453h-3.1M397.6 447.6h-3.1M397.6 442.1h-5.4M397.6 436.6h-3.1M397.6 431.2h-3.1M397.6 425.7h-3.1M397.6 420.3h-3.1M397.6 414.8h-5.4M397.6 409.3h-3.1M397.6 403.9h-3.1M397.6 398.4h-3.1M397.6 393h-3.1M397.6 387.5h-5.4M397.6 382h-3.1M397.6 524v4M412.2 524v2.2M420.8 524v2.2M426.8 524v2.2M431.5 524v2.2M435.4 524v2.2M438.6 524v2.2M441.4 524v2.2M443.9 524v2.2M446.1 524v4M460.8 524v2.2M469.3 524v2.2M475.4 524v2.2M480.1 524v2.2M483.9 524v2.2M487.2 524v2.2M490 524v2.2M492.5 524v2.2M494.7 524v4M509.3 524v2.2M517.9 524v2.2M523.9 524v2.2M528.6 524v2.2M532.5 524v2.2M535.7 524v2.2M538.5 524v2.2M541 524v2.2M543.2 524v4M557.9 524v2.2M566.4 524v2.2M572.5 524v2.2M577.2 524v2.2M581 524v2.2M584.3 524v2.2M587.1 524v2.2M589.6 524v2.2M591.8 524v4" stroke="#1a1a1a" stroke-width="0.8" fill="none"/>
<text class="t" transform="translate(389.7 527.2) scale(0.93 1)" font-size="10" text-anchor="end">0</text>
<text class="t" transform="translate(389.7 499.9) scale(0.93 1)" font-size="10" text-anchor="end">50</text>
<text class="t" transform="translate(389.7 472.6) scale(0.93 1)" font-size="10" text-anchor="end">100</text>
<text class="t" transform="translate(389.7 445.3) scale(0.93 1)" font-size="10" text-anchor="end">150</text>
<text class="t" transform="translate(389.7 418) scale(0.93 1)" font-size="10" text-anchor="end">200</text>
<text class="t" transform="translate(389.7 390.7) scale(0.93 1)" font-size="10" text-anchor="end">250</text>
<text class="t" transform="translate(391.3 538.7) scale(0.93 1)" font-size="10" text-anchor="start">10<tspan dy="-3.4" font-size="7.8">0</tspan></text>
<text class="t" transform="translate(439.8 538.7) scale(0.93 1)" font-size="10" text-anchor="start">10<tspan dy="-3.4" font-size="7.8">1</tspan></text>
<text class="t" transform="translate(488.4 538.7) scale(0.93 1)" font-size="10" text-anchor="start">10<tspan dy="-3.4" font-size="7.8">2</tspan></text>
<text class="t" transform="translate(537 538.7) scale(0.93 1)" font-size="10" text-anchor="start">10<tspan dy="-3.4" font-size="7.8">3</tspan></text>
<text class="t" transform="translate(585.5 538.7) scale(0.93 1)" font-size="10" text-anchor="start">10<tspan dy="-3.4" font-size="7.8">4</tspan></text>
<text transform="translate(368.7 469.2) rotate(-90)" font-size="10.5" textLength="29.2" lengthAdjust="spacingAndGlyphs">Counts</text>
</g>
<defs><filter id="b1" x="-20%" y="-50%" width="140%" height="200%"><feGaussianBlur stdDeviation="2.2"/></filter><filter id="b2" x="-50%" y="-50%" width="200%" height="200%"><feGaussianBlur stdDeviation="1.6"/></filter><filter id="b3" x="-50%" y="-50%" width="200%" height="200%"><feGaussianBlur stdDeviation="2.6"/></filter><clipPath id="cA"><rect x="164.3" y="233" width="183" height="148.9"/></clipPath></defs>
</svg></body></html>
